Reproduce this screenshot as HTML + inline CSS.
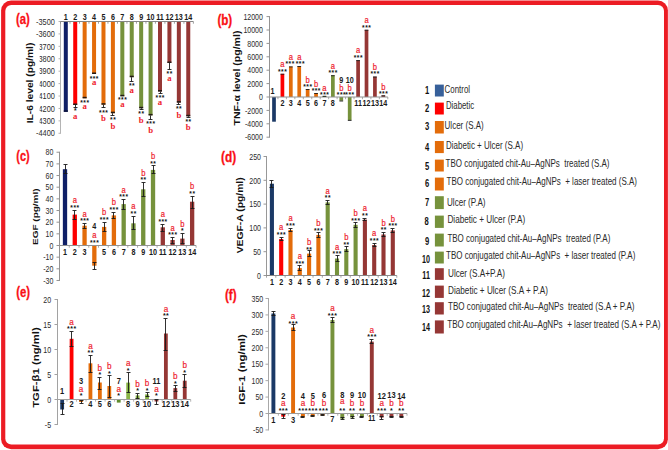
<!DOCTYPE html>
<html lang="en">
<head>
<meta charset="utf-8">
<title>Cytokine and growth factor levels - bar chart panels</title>
<style>
html,body{margin:0;padding:0;background:#fff;}
body{width:668px;height:450px;overflow:hidden;font-family:"Liberation Sans",sans-serif;}
svg{display:block;}
text.s{font-family:"Liberation Sans",sans-serif;}
text.sb{font-family:"Liberation Sans",sans-serif;font-weight:bold;}
text.r{font-family:"Liberation Serif",serif;}
text.rb{font-family:"Liberation Serif",serif;font-weight:bold;}
</style>
</head>
<body>
<svg width="668" height="450" viewBox="0 0 668 450">
<rect x="1.1" y="0.5" width="666.8" height="448.7" rx="10" ry="10" fill="#ec1c24"/>
<rect x="5.3" y="5" width="658.7" height="439.6" rx="6" ry="6" fill="#fff"/>
<rect x="63.8" y="21.5" width="4" height="90.3" fill="#0f1f66"/>
<rect x="73.22" y="21.5" width="4" height="83.5" fill="#fe0000"/>
<rect x="82.64" y="21.5" width="4" height="76.8" fill="#e36c0a"/>
<rect x="92.06" y="21.5" width="4" height="52.5" fill="#e36c0a"/>
<rect x="101.48" y="21.5" width="4" height="83.2" fill="#e36c0a"/>
<rect x="110.9" y="21.5" width="4" height="91.7" fill="#e36c0a"/>
<rect x="120.32" y="21.5" width="4" height="74.8" fill="#76923c"/>
<rect x="129.74" y="21.5" width="4" height="55.7" fill="#76923c"/>
<rect x="139.16" y="21.5" width="4" height="86.8" fill="#76923c"/>
<rect x="148.58" y="21.5" width="4" height="93.9" fill="#76923c"/>
<rect x="158" y="21.5" width="4" height="70" fill="#953735"/>
<rect x="167.42" y="21.5" width="4" height="41.5" fill="#953735"/>
<rect x="176.84" y="21.5" width="4" height="81.1" fill="#953735"/>
<rect x="186.26" y="21.5" width="4" height="94.8" fill="#953735"/>
<line x1="60.5" y1="21" x2="60.5" y2="133.78" stroke="#b4b4b4" stroke-width="1"/>
<line x1="60" y1="21.5" x2="193.4" y2="21.5" stroke="#868686" stroke-width="1"/>
<line x1="58.5" y1="21.5" x2="60.5" y2="21.5" stroke="#b4b4b4" stroke-width="1"/>
<line x1="58.5" y1="33.92" x2="60.5" y2="33.92" stroke="#b4b4b4" stroke-width="1"/>
<line x1="58.5" y1="46.34" x2="60.5" y2="46.34" stroke="#b4b4b4" stroke-width="1"/>
<line x1="58.5" y1="58.76" x2="60.5" y2="58.76" stroke="#b4b4b4" stroke-width="1"/>
<line x1="58.5" y1="71.18" x2="60.5" y2="71.18" stroke="#b4b4b4" stroke-width="1"/>
<line x1="58.5" y1="83.6" x2="60.5" y2="83.6" stroke="#b4b4b4" stroke-width="1"/>
<line x1="58.5" y1="96.02" x2="60.5" y2="96.02" stroke="#b4b4b4" stroke-width="1"/>
<line x1="58.5" y1="108.44" x2="60.5" y2="108.44" stroke="#b4b4b4" stroke-width="1"/>
<line x1="58.5" y1="120.86" x2="60.5" y2="120.86" stroke="#b4b4b4" stroke-width="1"/>
<line x1="58.5" y1="133.28" x2="60.5" y2="133.28" stroke="#b4b4b4" stroke-width="1"/>
<line x1="60.5" y1="21.5" x2="60.5" y2="23.7" stroke="#868686" stroke-width="0.8"/>
<line x1="69.99" y1="21.5" x2="69.99" y2="23.7" stroke="#868686" stroke-width="0.8"/>
<line x1="79.49" y1="21.5" x2="79.49" y2="23.7" stroke="#868686" stroke-width="0.8"/>
<line x1="88.98" y1="21.5" x2="88.98" y2="23.7" stroke="#868686" stroke-width="0.8"/>
<line x1="98.47" y1="21.5" x2="98.47" y2="23.7" stroke="#868686" stroke-width="0.8"/>
<line x1="107.96" y1="21.5" x2="107.96" y2="23.7" stroke="#868686" stroke-width="0.8"/>
<line x1="117.46" y1="21.5" x2="117.46" y2="23.7" stroke="#868686" stroke-width="0.8"/>
<line x1="126.95" y1="21.5" x2="126.95" y2="23.7" stroke="#868686" stroke-width="0.8"/>
<line x1="136.44" y1="21.5" x2="136.44" y2="23.7" stroke="#868686" stroke-width="0.8"/>
<line x1="145.94" y1="21.5" x2="145.94" y2="23.7" stroke="#868686" stroke-width="0.8"/>
<line x1="155.43" y1="21.5" x2="155.43" y2="23.7" stroke="#868686" stroke-width="0.8"/>
<line x1="164.92" y1="21.5" x2="164.92" y2="23.7" stroke="#868686" stroke-width="0.8"/>
<line x1="174.41" y1="21.5" x2="174.41" y2="23.7" stroke="#868686" stroke-width="0.8"/>
<line x1="183.91" y1="21.5" x2="183.91" y2="23.7" stroke="#868686" stroke-width="0.8"/>
<line x1="193.4" y1="21.5" x2="193.4" y2="23.7" stroke="#868686" stroke-width="0.8"/>
<text class="s" transform="translate(54.9 24.7) scale(0.82 1)" font-size="9" fill="#2b2b2b" text-anchor="end">-3500</text>
<text class="s" transform="translate(54.9 37.12) scale(0.82 1)" font-size="9" fill="#2b2b2b" text-anchor="end">-3600</text>
<text class="s" transform="translate(54.9 49.54) scale(0.82 1)" font-size="9" fill="#2b2b2b" text-anchor="end">-3700</text>
<text class="s" transform="translate(54.9 61.96) scale(0.82 1)" font-size="9" fill="#2b2b2b" text-anchor="end">-3800</text>
<text class="s" transform="translate(54.9 74.38) scale(0.82 1)" font-size="9" fill="#2b2b2b" text-anchor="end">-3900</text>
<text class="s" transform="translate(54.9 86.8) scale(0.82 1)" font-size="9" fill="#2b2b2b" text-anchor="end">-4000</text>
<text class="s" transform="translate(54.9 99.22) scale(0.82 1)" font-size="9" fill="#2b2b2b" text-anchor="end">-4100</text>
<text class="s" transform="translate(54.9 111.64) scale(0.82 1)" font-size="9" fill="#2b2b2b" text-anchor="end">-4200</text>
<text class="s" transform="translate(54.9 124.06) scale(0.82 1)" font-size="9" fill="#2b2b2b" text-anchor="end">-4300</text>
<text class="s" transform="translate(54.9 136.48) scale(0.82 1)" font-size="9" fill="#2b2b2b" text-anchor="end">-4400</text>
<rect x="63.8" y="110.3" width="4" height="1.5" fill="#0a1238"/>
<rect x="73.22" y="103.5" width="4" height="1.5" fill="#241a14"/>
<line x1="75.5" y1="105" x2="75.5" y2="107.5" stroke="#1a1a1a" stroke-width="0.9"/>
<line x1="73.5" y1="107.5" x2="77.5" y2="107.5" stroke="#1a1a1a" stroke-width="0.9"/>
<rect x="82.64" y="96.8" width="4" height="1.5" fill="#241a14"/>
<rect x="92.06" y="72.5" width="4" height="1.5" fill="#241a14"/>
<rect x="101.48" y="103.2" width="4" height="1.5" fill="#241a14"/>
<line x1="103.5" y1="104.7" x2="103.5" y2="107.5" stroke="#1a1a1a" stroke-width="0.9"/>
<line x1="101.5" y1="107.5" x2="105.5" y2="107.5" stroke="#1a1a1a" stroke-width="0.9"/>
<rect x="110.9" y="111.7" width="4" height="1.5" fill="#241a14"/>
<line x1="112.5" y1="113.2" x2="112.5" y2="115.5" stroke="#1a1a1a" stroke-width="0.9"/>
<line x1="110.5" y1="115.5" x2="114.5" y2="115.5" stroke="#1a1a1a" stroke-width="0.9"/>
<rect x="120.32" y="94.8" width="4" height="1.5" fill="#241a14"/>
<rect x="129.74" y="75.7" width="4" height="1.5" fill="#241a14"/>
<line x1="131.5" y1="77.2" x2="131.5" y2="81.5" stroke="#1a1a1a" stroke-width="0.9"/>
<line x1="129.5" y1="81.5" x2="133.5" y2="81.5" stroke="#1a1a1a" stroke-width="0.9"/>
<rect x="139.16" y="106.8" width="4" height="1.5" fill="#241a14"/>
<line x1="141.5" y1="108.3" x2="141.5" y2="109.5" stroke="#1a1a1a" stroke-width="0.9"/>
<line x1="139.5" y1="109.5" x2="143.5" y2="109.5" stroke="#1a1a1a" stroke-width="0.9"/>
<rect x="148.58" y="113.9" width="4" height="1.5" fill="#241a14"/>
<line x1="150.5" y1="115.4" x2="150.5" y2="119.5" stroke="#1a1a1a" stroke-width="0.9"/>
<line x1="148.5" y1="119.5" x2="152.5" y2="119.5" stroke="#1a1a1a" stroke-width="0.9"/>
<rect x="158" y="90" width="4" height="1.5" fill="#241a14"/>
<line x1="160.5" y1="91.5" x2="160.5" y2="93.5" stroke="#1a1a1a" stroke-width="0.9"/>
<line x1="158.5" y1="93.5" x2="162.5" y2="93.5" stroke="#1a1a1a" stroke-width="0.9"/>
<rect x="167.42" y="61.5" width="4" height="1.5" fill="#241a14"/>
<line x1="169.5" y1="63" x2="169.5" y2="69.5" stroke="#1a1a1a" stroke-width="0.9"/>
<line x1="167.5" y1="69.5" x2="171.5" y2="69.5" stroke="#1a1a1a" stroke-width="0.9"/>
<rect x="176.84" y="101.1" width="4" height="1.5" fill="#241a14"/>
<line x1="178.5" y1="102.6" x2="178.5" y2="104.5" stroke="#1a1a1a" stroke-width="0.9"/>
<line x1="176.5" y1="104.5" x2="180.5" y2="104.5" stroke="#1a1a1a" stroke-width="0.9"/>
<rect x="186.26" y="114.8" width="4" height="1.5" fill="#241a14"/>
<line x1="188.5" y1="116.3" x2="188.5" y2="117.5" stroke="#1a1a1a" stroke-width="0.9"/>
<line x1="186.5" y1="117.5" x2="190.5" y2="117.5" stroke="#1a1a1a" stroke-width="0.9"/>
<rect x="26" y="40" width="13.6" height="84" fill="#fff"/>
<text class="sb" transform="translate(32.8 123.3) rotate(-90) scale(1 0.8)" font-size="10.22" fill="#111">IL-6 level (pg/ml)</text>
<text class="sb" transform="translate(16 24.3) scale(0.81 1)" font-size="14" fill="#fa0f16" stroke="#fa0f16" stroke-width="0.3">(a)</text>
<text class="sb" transform="translate(65.8 19.7) scale(0.8 1)" font-size="9" fill="#1a1a1a" text-anchor="middle">1</text>
<text class="sb" transform="translate(75.22 19.7) scale(0.8 1)" font-size="9" fill="#1a1a1a" text-anchor="middle">2</text>
<text class="sb" transform="translate(75.47 113.22) scale(1 1)" font-size="6.6" fill="#111" text-anchor="middle" letter-spacing="0.55">*</text>
<text class="rb" transform="translate(75.22 119.4) scale(0.95 1)" font-size="9.2" fill="#ee1c2e" text-anchor="middle">a</text>
<text class="sb" transform="translate(84.64 19.7) scale(0.8 1)" font-size="9" fill="#1a1a1a" text-anchor="middle">3</text>
<text class="sb" transform="translate(84.89 105.22) scale(1 1)" font-size="6.6" fill="#111" text-anchor="middle" letter-spacing="0.55">***</text>
<text class="rb" transform="translate(84.64 109.4) scale(0.95 1)" font-size="9.2" fill="#ee1c2e" text-anchor="middle">a</text>
<text class="sb" transform="translate(94.06 19.7) scale(0.8 1)" font-size="9" fill="#1a1a1a" text-anchor="middle">4</text>
<text class="sb" transform="translate(94.31 81.22) scale(1 1)" font-size="6.6" fill="#111" text-anchor="middle" letter-spacing="0.55">***</text>
<text class="rb" transform="translate(94.06 84.8) scale(0.95 1)" font-size="9.2" fill="#ee1c2e" text-anchor="middle">a</text>
<text class="sb" transform="translate(103.48 19.7) scale(0.8 1)" font-size="9" fill="#1a1a1a" text-anchor="middle">5</text>
<text class="sb" transform="translate(103.73 114.92) scale(1 1)" font-size="6.6" fill="#111" text-anchor="middle" letter-spacing="0.55">***</text>
<text class="rb" transform="translate(103.48 121.3) scale(0.95 1)" font-size="9.2" fill="#ee1c2e" text-anchor="middle">b</text>
<text class="sb" transform="translate(112.9 19.7) scale(0.8 1)" font-size="9" fill="#1a1a1a" text-anchor="middle">6</text>
<text class="sb" transform="translate(113.15 122.32) scale(1 1)" font-size="6.6" fill="#111" text-anchor="middle" letter-spacing="0.55">**</text>
<text class="rb" transform="translate(112.9 129.2) scale(0.95 1)" font-size="9.2" fill="#ee1c2e" text-anchor="middle">b</text>
<text class="sb" transform="translate(122.32 19.7) scale(0.8 1)" font-size="9" fill="#1a1a1a" text-anchor="middle">7</text>
<text class="sb" transform="translate(122.57 102.42) scale(1 1)" font-size="6.6" fill="#111" text-anchor="middle" letter-spacing="0.55">***</text>
<text class="rb" transform="translate(122.32 107.4) scale(0.95 1)" font-size="9.2" fill="#ee1c2e" text-anchor="middle">a</text>
<text class="sb" transform="translate(131.74 19.7) scale(0.8 1)" font-size="9" fill="#1a1a1a" text-anchor="middle">8</text>
<text class="sb" transform="translate(131.99 88.02) scale(1 1)" font-size="6.6" fill="#111" text-anchor="middle" letter-spacing="0.55">**</text>
<text class="rb" transform="translate(131.74 93.4) scale(0.95 1)" font-size="9.2" fill="#ee1c2e" text-anchor="middle">a</text>
<text class="sb" transform="translate(141.16 19.7) scale(0.8 1)" font-size="9" fill="#1a1a1a" text-anchor="middle">9</text>
<text class="sb" transform="translate(141.41 116.12) scale(1 1)" font-size="6.6" fill="#111" text-anchor="middle" letter-spacing="0.55">**</text>
<text class="rb" transform="translate(141.16 123.4) scale(0.95 1)" font-size="9.2" fill="#ee1c2e" text-anchor="middle">b</text>
<text class="sb" transform="translate(150.58 19.7) scale(0.8 1)" font-size="9" fill="#1a1a1a" text-anchor="middle">10</text>
<text class="sb" transform="translate(150.83 126.32) scale(1 1)" font-size="6.6" fill="#111" text-anchor="middle" letter-spacing="0.55">***</text>
<text class="rb" transform="translate(150.58 133.4) scale(0.95 1)" font-size="9.2" fill="#ee1c2e" text-anchor="middle">b</text>
<text class="sb" transform="translate(160 19.7) scale(0.8 1)" font-size="9" fill="#1a1a1a" text-anchor="middle">11</text>
<text class="sb" transform="translate(160.25 100.02) scale(1 1)" font-size="6.6" fill="#111" text-anchor="middle" letter-spacing="0.55">***</text>
<text class="rb" transform="translate(160 104.5) scale(0.95 1)" font-size="9.2" fill="#ee1c2e" text-anchor="middle">a</text>
<text class="sb" transform="translate(169.42 19.7) scale(0.8 1)" font-size="9" fill="#1a1a1a" text-anchor="middle">12</text>
<text class="sb" transform="translate(169.67 76.12) scale(1 1)" font-size="6.6" fill="#111" text-anchor="middle" letter-spacing="0.55">**</text>
<text class="rb" transform="translate(169.42 80.8) scale(0.95 1)" font-size="9.2" fill="#ee1c2e" text-anchor="middle">a</text>
<text class="sb" transform="translate(178.84 19.7) scale(0.8 1)" font-size="9" fill="#1a1a1a" text-anchor="middle">13</text>
<text class="sb" transform="translate(179.09 111.12) scale(1 1)" font-size="6.6" fill="#111" text-anchor="middle" letter-spacing="0.55">**</text>
<text class="rb" transform="translate(178.84 117.5) scale(0.95 1)" font-size="9.2" fill="#ee1c2e" text-anchor="middle">b</text>
<text class="sb" transform="translate(188.26 19.7) scale(0.8 1)" font-size="9" fill="#1a1a1a" text-anchor="middle">14</text>
<text class="sb" transform="translate(188.51 123.72) scale(1 1)" font-size="6.6" fill="#111" text-anchor="middle" letter-spacing="0.55">**</text>
<text class="rb" transform="translate(188.26 130.3) scale(0.95 1)" font-size="9.2" fill="#ee1c2e" text-anchor="middle">b</text>
<rect x="272.15" y="97" width="3.7" height="24.7" fill="#1b3966"/>
<rect x="280.56" y="73.9" width="3.7" height="23.1" fill="#fe0000"/>
<rect x="288.97" y="66.6" width="3.7" height="30.4" fill="#e36c0a"/>
<rect x="297.38" y="66.2" width="3.7" height="30.8" fill="#e36c0a"/>
<rect x="305.79" y="89.2" width="3.7" height="7.8" fill="#e36c0a"/>
<rect x="314.2" y="93.2" width="3.7" height="3.8" fill="#e36c0a"/>
<rect x="322.61" y="96" width="3.7" height="1" fill="#76923c"/>
<rect x="331.02" y="75.4" width="3.7" height="21.6" fill="#76923c"/>
<rect x="339.43" y="97" width="3.7" height="3.7" fill="#76923c"/>
<rect x="347.84" y="97" width="3.7" height="23.1" fill="#76923c"/>
<rect x="356.25" y="60.3" width="3.7" height="36.7" fill="#953735"/>
<rect x="364.66" y="29.9" width="3.7" height="67.1" fill="#953735"/>
<rect x="373.07" y="76.7" width="3.7" height="20.3" fill="#953735"/>
<rect x="381.48" y="95.5" width="3.7" height="1.5" fill="#953735"/>
<line x1="269.5" y1="16.1" x2="269.5" y2="137.7" stroke="#939393" stroke-width="1"/>
<line x1="269" y1="97" x2="387.8" y2="97" stroke="#939393" stroke-width="1"/>
<line x1="266.5" y1="16.6" x2="269.5" y2="16.6" stroke="#939393" stroke-width="1"/>
<line x1="266.5" y1="30" x2="269.5" y2="30" stroke="#939393" stroke-width="1"/>
<line x1="266.5" y1="43.4" x2="269.5" y2="43.4" stroke="#939393" stroke-width="1"/>
<line x1="266.5" y1="56.8" x2="269.5" y2="56.8" stroke="#939393" stroke-width="1"/>
<line x1="266.5" y1="70.2" x2="269.5" y2="70.2" stroke="#939393" stroke-width="1"/>
<line x1="266.5" y1="83.6" x2="269.5" y2="83.6" stroke="#939393" stroke-width="1"/>
<line x1="266.5" y1="97" x2="269.5" y2="97" stroke="#939393" stroke-width="1"/>
<line x1="266.5" y1="110.4" x2="269.5" y2="110.4" stroke="#939393" stroke-width="1"/>
<line x1="266.5" y1="123.8" x2="269.5" y2="123.8" stroke="#939393" stroke-width="1"/>
<line x1="266.5" y1="137.2" x2="269.5" y2="137.2" stroke="#939393" stroke-width="1"/>
<line x1="269.5" y1="97" x2="269.5" y2="99.2" stroke="#939393" stroke-width="0.8"/>
<line x1="277.95" y1="97" x2="277.95" y2="99.2" stroke="#939393" stroke-width="0.8"/>
<line x1="286.4" y1="97" x2="286.4" y2="99.2" stroke="#939393" stroke-width="0.8"/>
<line x1="294.85" y1="97" x2="294.85" y2="99.2" stroke="#939393" stroke-width="0.8"/>
<line x1="303.3" y1="97" x2="303.3" y2="99.2" stroke="#939393" stroke-width="0.8"/>
<line x1="311.75" y1="97" x2="311.75" y2="99.2" stroke="#939393" stroke-width="0.8"/>
<line x1="320.2" y1="97" x2="320.2" y2="99.2" stroke="#939393" stroke-width="0.8"/>
<line x1="328.65" y1="97" x2="328.65" y2="99.2" stroke="#939393" stroke-width="0.8"/>
<line x1="337.1" y1="97" x2="337.1" y2="99.2" stroke="#939393" stroke-width="0.8"/>
<line x1="345.55" y1="97" x2="345.55" y2="99.2" stroke="#939393" stroke-width="0.8"/>
<line x1="354" y1="97" x2="354" y2="99.2" stroke="#939393" stroke-width="0.8"/>
<line x1="362.45" y1="97" x2="362.45" y2="99.2" stroke="#939393" stroke-width="0.8"/>
<line x1="370.9" y1="97" x2="370.9" y2="99.2" stroke="#939393" stroke-width="0.8"/>
<line x1="379.35" y1="97" x2="379.35" y2="99.2" stroke="#939393" stroke-width="0.8"/>
<line x1="387.8" y1="97" x2="387.8" y2="99.2" stroke="#939393" stroke-width="0.8"/>
<text class="s" transform="translate(262.9 19.8) scale(0.78 1)" font-size="9" fill="#2b2b2b" text-anchor="end">12000</text>
<text class="s" transform="translate(262.9 33.2) scale(0.78 1)" font-size="9" fill="#2b2b2b" text-anchor="end">10000</text>
<text class="s" transform="translate(262.9 46.6) scale(0.78 1)" font-size="9" fill="#2b2b2b" text-anchor="end">8000</text>
<text class="s" transform="translate(262.9 60) scale(0.78 1)" font-size="9" fill="#2b2b2b" text-anchor="end">6000</text>
<text class="s" transform="translate(262.9 73.4) scale(0.78 1)" font-size="9" fill="#2b2b2b" text-anchor="end">4000</text>
<text class="s" transform="translate(262.9 86.8) scale(0.78 1)" font-size="9" fill="#2b2b2b" text-anchor="end">2000</text>
<text class="s" transform="translate(262.9 100.2) scale(0.78 1)" font-size="9" fill="#2b2b2b" text-anchor="end">0</text>
<text class="s" transform="translate(262.9 113.6) scale(0.78 1)" font-size="9" fill="#2b2b2b" text-anchor="end">-2000</text>
<text class="s" transform="translate(262.9 127) scale(0.78 1)" font-size="9" fill="#2b2b2b" text-anchor="end">-4000</text>
<text class="s" transform="translate(262.9 140.4) scale(0.78 1)" font-size="9" fill="#2b2b2b" text-anchor="end">-6000</text>
<text class="sb" transform="translate(240 125.5) rotate(-90) scale(1 0.8)" font-size="10.55" fill="#111">TNF-α level (pg/ml)</text>
<text class="sb" transform="translate(217.4 24.6) scale(0.83 1)" font-size="14" fill="#fa0f16" stroke="#fa0f16" stroke-width="0.3">(b)</text>
<text class="sb" transform="translate(272.5 93.7) scale(0.8 1)" font-size="9" fill="#1a1a1a" text-anchor="middle">1</text>
<text class="sb" transform="translate(282.41 105.9) scale(0.8 1)" font-size="9" fill="#1a1a1a" text-anchor="middle">2</text>
<line x1="280.56" y1="74.2" x2="284.26" y2="74.2" stroke="#1a1a1a" stroke-width="0.9"/>
<text class="sb" transform="translate(282.66 73.62) scale(1 1)" font-size="6.6" fill="#111" text-anchor="middle" letter-spacing="0.55">***</text>
<text class="s" transform="translate(282.41 67.3) scale(0.88 1)" font-size="8.6" fill="#ee1c2e" text-anchor="middle" stroke="#ee1c2e" stroke-width="0.2">a</text>
<text class="sb" transform="translate(290.82 105.9) scale(0.8 1)" font-size="9" fill="#1a1a1a" text-anchor="middle">3</text>
<line x1="288.97" y1="66.9" x2="292.67" y2="66.9" stroke="#1a1a1a" stroke-width="0.9"/>
<text class="sb" transform="translate(290.07 66.42) scale(1 1)" font-size="6.6" fill="#111" text-anchor="middle" letter-spacing="0.55">***</text>
<text class="s" transform="translate(290.82 59.8) scale(0.88 1)" font-size="8.6" fill="#ee1c2e" text-anchor="middle" stroke="#ee1c2e" stroke-width="0.2">a</text>
<text class="sb" transform="translate(299.23 105.9) scale(0.8 1)" font-size="9" fill="#1a1a1a" text-anchor="middle">4</text>
<line x1="297.38" y1="66.5" x2="301.08" y2="66.5" stroke="#1a1a1a" stroke-width="0.9"/>
<text class="sb" transform="translate(300.38 65.82) scale(1 1)" font-size="6.6" fill="#111" text-anchor="middle" letter-spacing="0.55">***</text>
<text class="s" transform="translate(299.23 60) scale(0.88 1)" font-size="8.6" fill="#ee1c2e" text-anchor="middle" stroke="#ee1c2e" stroke-width="0.2">a</text>
<text class="sb" transform="translate(307.64 105.9) scale(0.8 1)" font-size="9" fill="#1a1a1a" text-anchor="middle">5</text>
<line x1="305.79" y1="89.5" x2="309.49" y2="89.5" stroke="#1a1a1a" stroke-width="0.9"/>
<text class="sb" transform="translate(307.89 88.92) scale(1 1)" font-size="6.6" fill="#111" text-anchor="middle" letter-spacing="0.55">***</text>
<text class="s" transform="translate(307.64 82.5) scale(0.88 1)" font-size="8.6" fill="#ee1c2e" text-anchor="middle" stroke="#ee1c2e" stroke-width="0.2">b</text>
<text class="sb" transform="translate(316.05 105.9) scale(0.8 1)" font-size="9" fill="#1a1a1a" text-anchor="middle">6</text>
<line x1="314.2" y1="93.5" x2="317.9" y2="93.5" stroke="#1a1a1a" stroke-width="0.9"/>
<text class="sb" transform="translate(316.3 93.32) scale(1 1)" font-size="6.6" fill="#111" text-anchor="middle" letter-spacing="0.55">***</text>
<text class="s" transform="translate(316.05 87.3) scale(0.88 1)" font-size="8.6" fill="#ee1c2e" text-anchor="middle" stroke="#ee1c2e" stroke-width="0.2">b</text>
<text class="sb" transform="translate(324.46 105.9) scale(0.8 1)" font-size="9" fill="#1a1a1a" text-anchor="middle">7</text>
<line x1="322.61" y1="96.3" x2="326.31" y2="96.3" stroke="#1a1a1a" stroke-width="0.9"/>
<text class="sb" transform="translate(324.71 96.82) scale(1 1)" font-size="6.6" fill="#111" text-anchor="middle" letter-spacing="0.55">***</text>
<text class="s" transform="translate(324.46 90.8) scale(0.88 1)" font-size="8.6" fill="#ee1c2e" text-anchor="middle" stroke="#ee1c2e" stroke-width="0.2">a</text>
<text class="sb" transform="translate(332.87 105.9) scale(0.8 1)" font-size="9" fill="#1a1a1a" text-anchor="middle">8</text>
<line x1="331.02" y1="75.7" x2="334.72" y2="75.7" stroke="#1a1a1a" stroke-width="0.9"/>
<text class="sb" transform="translate(333.12 75.32) scale(1 1)" font-size="6.6" fill="#111" text-anchor="middle" letter-spacing="0.55">***</text>
<text class="s" transform="translate(332.87 69.3) scale(0.88 1)" font-size="8.6" fill="#ee1c2e" text-anchor="middle" stroke="#ee1c2e" stroke-width="0.2">a</text>
<text class="sb" transform="translate(341.28 82.5) scale(0.8 1)" font-size="9" fill="#1a1a1a" text-anchor="middle">9</text>
<line x1="339.43" y1="101" x2="343.13" y2="101" stroke="#1a1a1a" stroke-width="0.9"/>
<text class="sb" transform="translate(341.53 96.92) scale(1 1)" font-size="6.6" fill="#111" text-anchor="middle" letter-spacing="0.55">***</text>
<text class="s" transform="translate(341.28 90.5) scale(0.88 1)" font-size="8.6" fill="#ee1c2e" text-anchor="middle" stroke="#ee1c2e" stroke-width="0.2">b</text>
<text class="sb" transform="translate(349.69 82.5) scale(0.8 1)" font-size="9" fill="#1a1a1a" text-anchor="middle">10</text>
<line x1="347.84" y1="120.4" x2="351.54" y2="120.4" stroke="#1a1a1a" stroke-width="0.9"/>
<text class="sb" transform="translate(349.94 96.92) scale(1 1)" font-size="6.6" fill="#111" text-anchor="middle" letter-spacing="0.55">***</text>
<text class="s" transform="translate(349.69 90.5) scale(0.88 1)" font-size="8.6" fill="#ee1c2e" text-anchor="middle" stroke="#ee1c2e" stroke-width="0.2">b</text>
<text class="sb" transform="translate(358.1 105.9) scale(0.8 1)" font-size="9" fill="#1a1a1a" text-anchor="middle">11</text>
<line x1="356.25" y1="60.6" x2="359.95" y2="60.6" stroke="#1a1a1a" stroke-width="0.9"/>
<text class="sb" transform="translate(358.35 60.32) scale(1 1)" font-size="6.6" fill="#111" text-anchor="middle" letter-spacing="0.55">***</text>
<text class="s" transform="translate(358.1 53.3) scale(0.88 1)" font-size="8.6" fill="#ee1c2e" text-anchor="middle" stroke="#ee1c2e" stroke-width="0.2">a</text>
<text class="sb" transform="translate(366.51 105.9) scale(0.8 1)" font-size="9" fill="#1a1a1a" text-anchor="middle">12</text>
<line x1="364.66" y1="30.2" x2="368.36" y2="30.2" stroke="#1a1a1a" stroke-width="0.9"/>
<text class="sb" transform="translate(366.76 29.72) scale(1 1)" font-size="6.6" fill="#111" text-anchor="middle" letter-spacing="0.55">***</text>
<text class="s" transform="translate(366.51 23) scale(0.88 1)" font-size="8.6" fill="#ee1c2e" text-anchor="middle" stroke="#ee1c2e" stroke-width="0.2">a</text>
<text class="sb" transform="translate(374.92 105.9) scale(0.8 1)" font-size="9" fill="#1a1a1a" text-anchor="middle">13</text>
<line x1="373.07" y1="77" x2="376.77" y2="77" stroke="#1a1a1a" stroke-width="0.9"/>
<text class="sb" transform="translate(375.17 76.32) scale(1 1)" font-size="6.6" fill="#111" text-anchor="middle" letter-spacing="0.55">***</text>
<text class="s" transform="translate(374.92 69.6) scale(0.88 1)" font-size="8.6" fill="#ee1c2e" text-anchor="middle" stroke="#ee1c2e" stroke-width="0.2">b</text>
<text class="sb" transform="translate(383.33 105.9) scale(0.8 1)" font-size="9" fill="#1a1a1a" text-anchor="middle">14</text>
<line x1="381.48" y1="95.8" x2="385.18" y2="95.8" stroke="#1a1a1a" stroke-width="0.9"/>
<text class="sb" transform="translate(383.58 95.72) scale(1 1)" font-size="6.6" fill="#111" text-anchor="middle" letter-spacing="0.55">***</text>
<text class="s" transform="translate(383.33 90) scale(0.88 1)" font-size="8.6" fill="#ee1c2e" text-anchor="middle" stroke="#ee1c2e" stroke-width="0.2">b</text>
<rect x="62.85" y="169.2" width="4.3" height="76.3" fill="#0f1f66"/>
<rect x="72.63" y="214.6" width="4.3" height="30.9" fill="#fe0000"/>
<rect x="82.41" y="225.7" width="4.3" height="19.8" fill="#e36c0a"/>
<rect x="92.19" y="245.5" width="4.3" height="20.2" fill="#e36c0a"/>
<rect x="101.97" y="226.9" width="4.3" height="18.6" fill="#e36c0a"/>
<rect x="111.75" y="215.4" width="4.3" height="30.1" fill="#e36c0a"/>
<rect x="121.53" y="204.1" width="4.3" height="41.4" fill="#76923c"/>
<rect x="131.31" y="223.3" width="4.3" height="22.2" fill="#76923c"/>
<rect x="141.09" y="189.3" width="4.3" height="56.2" fill="#76923c"/>
<rect x="150.87" y="169.9" width="4.3" height="75.6" fill="#76923c"/>
<rect x="160.65" y="227.3" width="4.3" height="18.2" fill="#953735"/>
<rect x="170.43" y="240" width="4.3" height="5.5" fill="#953735"/>
<rect x="180.21" y="238.6" width="4.3" height="6.9" fill="#953735"/>
<rect x="189.99" y="201.7" width="4.3" height="43.8" fill="#953735"/>
<line x1="59.5" y1="151.72" x2="59.5" y2="280.98" stroke="#939393" stroke-width="1"/>
<line x1="59" y1="245.5" x2="196.1" y2="245.5" stroke="#939393" stroke-width="1"/>
<line x1="56.5" y1="152.22" x2="59.5" y2="152.22" stroke="#939393" stroke-width="1"/>
<line x1="56.5" y1="163.88" x2="59.5" y2="163.88" stroke="#939393" stroke-width="1"/>
<line x1="56.5" y1="175.54" x2="59.5" y2="175.54" stroke="#939393" stroke-width="1"/>
<line x1="56.5" y1="187.2" x2="59.5" y2="187.2" stroke="#939393" stroke-width="1"/>
<line x1="56.5" y1="198.86" x2="59.5" y2="198.86" stroke="#939393" stroke-width="1"/>
<line x1="56.5" y1="210.52" x2="59.5" y2="210.52" stroke="#939393" stroke-width="1"/>
<line x1="56.5" y1="222.18" x2="59.5" y2="222.18" stroke="#939393" stroke-width="1"/>
<line x1="56.5" y1="233.84" x2="59.5" y2="233.84" stroke="#939393" stroke-width="1"/>
<line x1="56.5" y1="245.5" x2="59.5" y2="245.5" stroke="#939393" stroke-width="1"/>
<line x1="56.5" y1="257.16" x2="59.5" y2="257.16" stroke="#939393" stroke-width="1"/>
<line x1="56.5" y1="268.82" x2="59.5" y2="268.82" stroke="#939393" stroke-width="1"/>
<line x1="56.5" y1="280.48" x2="59.5" y2="280.48" stroke="#939393" stroke-width="1"/>
<line x1="59.5" y1="245.5" x2="59.5" y2="247.7" stroke="#939393" stroke-width="0.8"/>
<line x1="69.26" y1="245.5" x2="69.26" y2="247.7" stroke="#939393" stroke-width="0.8"/>
<line x1="79.01" y1="245.5" x2="79.01" y2="247.7" stroke="#939393" stroke-width="0.8"/>
<line x1="88.77" y1="245.5" x2="88.77" y2="247.7" stroke="#939393" stroke-width="0.8"/>
<line x1="98.53" y1="245.5" x2="98.53" y2="247.7" stroke="#939393" stroke-width="0.8"/>
<line x1="108.29" y1="245.5" x2="108.29" y2="247.7" stroke="#939393" stroke-width="0.8"/>
<line x1="118.04" y1="245.5" x2="118.04" y2="247.7" stroke="#939393" stroke-width="0.8"/>
<line x1="127.8" y1="245.5" x2="127.8" y2="247.7" stroke="#939393" stroke-width="0.8"/>
<line x1="137.56" y1="245.5" x2="137.56" y2="247.7" stroke="#939393" stroke-width="0.8"/>
<line x1="147.31" y1="245.5" x2="147.31" y2="247.7" stroke="#939393" stroke-width="0.8"/>
<line x1="157.07" y1="245.5" x2="157.07" y2="247.7" stroke="#939393" stroke-width="0.8"/>
<line x1="166.83" y1="245.5" x2="166.83" y2="247.7" stroke="#939393" stroke-width="0.8"/>
<line x1="176.59" y1="245.5" x2="176.59" y2="247.7" stroke="#939393" stroke-width="0.8"/>
<line x1="186.34" y1="245.5" x2="186.34" y2="247.7" stroke="#939393" stroke-width="0.8"/>
<line x1="196.1" y1="245.5" x2="196.1" y2="247.7" stroke="#939393" stroke-width="0.8"/>
<text class="s" transform="translate(53.3 155.42) scale(0.78 1)" font-size="9" fill="#2b2b2b" text-anchor="end">80</text>
<text class="s" transform="translate(53.3 167.08) scale(0.78 1)" font-size="9" fill="#2b2b2b" text-anchor="end">70</text>
<text class="s" transform="translate(53.3 178.74) scale(0.78 1)" font-size="9" fill="#2b2b2b" text-anchor="end">60</text>
<text class="s" transform="translate(53.3 190.4) scale(0.78 1)" font-size="9" fill="#2b2b2b" text-anchor="end">50</text>
<text class="s" transform="translate(53.3 202.06) scale(0.78 1)" font-size="9" fill="#2b2b2b" text-anchor="end">40</text>
<text class="s" transform="translate(53.3 213.72) scale(0.78 1)" font-size="9" fill="#2b2b2b" text-anchor="end">30</text>
<text class="s" transform="translate(53.3 225.38) scale(0.78 1)" font-size="9" fill="#2b2b2b" text-anchor="end">20</text>
<text class="s" transform="translate(53.3 237.04) scale(0.78 1)" font-size="9" fill="#2b2b2b" text-anchor="end">10</text>
<text class="s" transform="translate(53.3 248.7) scale(0.78 1)" font-size="9" fill="#2b2b2b" text-anchor="end">0</text>
<text class="s" transform="translate(53.3 260.36) scale(0.78 1)" font-size="9" fill="#2b2b2b" text-anchor="end">-10</text>
<text class="s" transform="translate(53.3 272.02) scale(0.78 1)" font-size="9" fill="#2b2b2b" text-anchor="end">-20</text>
<text class="s" transform="translate(53.3 283.68) scale(0.78 1)" font-size="9" fill="#2b2b2b" text-anchor="end">-30</text>
<line x1="65.5" y1="164.5" x2="65.5" y2="173.5" stroke="#1a1a1a" stroke-width="0.9"/>
<line x1="63.5" y1="164.5" x2="67.5" y2="164.5" stroke="#1a1a1a" stroke-width="0.9"/>
<line x1="63.5" y1="173.5" x2="67.5" y2="173.5" stroke="#1a1a1a" stroke-width="0.9"/>
<line x1="74.5" y1="210.5" x2="74.5" y2="219.5" stroke="#1a1a1a" stroke-width="0.9"/>
<line x1="72.5" y1="210.5" x2="76.5" y2="210.5" stroke="#1a1a1a" stroke-width="0.9"/>
<line x1="72.5" y1="219.5" x2="76.5" y2="219.5" stroke="#1a1a1a" stroke-width="0.9"/>
<line x1="84.5" y1="223.5" x2="84.5" y2="228.5" stroke="#1a1a1a" stroke-width="0.9"/>
<line x1="82.5" y1="223.5" x2="86.5" y2="223.5" stroke="#1a1a1a" stroke-width="0.9"/>
<line x1="82.5" y1="228.5" x2="86.5" y2="228.5" stroke="#1a1a1a" stroke-width="0.9"/>
<line x1="94.5" y1="262.5" x2="94.5" y2="269.5" stroke="#1a1a1a" stroke-width="0.9"/>
<line x1="92.5" y1="262.5" x2="96.5" y2="262.5" stroke="#1a1a1a" stroke-width="0.9"/>
<line x1="92.5" y1="269.5" x2="96.5" y2="269.5" stroke="#1a1a1a" stroke-width="0.9"/>
<line x1="104.5" y1="222.5" x2="104.5" y2="231.5" stroke="#1a1a1a" stroke-width="0.9"/>
<line x1="102.5" y1="222.5" x2="106.5" y2="222.5" stroke="#1a1a1a" stroke-width="0.9"/>
<line x1="102.5" y1="231.5" x2="106.5" y2="231.5" stroke="#1a1a1a" stroke-width="0.9"/>
<line x1="113.5" y1="212.5" x2="113.5" y2="218.5" stroke="#1a1a1a" stroke-width="0.9"/>
<line x1="111.5" y1="212.5" x2="115.5" y2="212.5" stroke="#1a1a1a" stroke-width="0.9"/>
<line x1="111.5" y1="218.5" x2="115.5" y2="218.5" stroke="#1a1a1a" stroke-width="0.9"/>
<line x1="123.5" y1="199.5" x2="123.5" y2="209.5" stroke="#1a1a1a" stroke-width="0.9"/>
<line x1="121.5" y1="199.5" x2="125.5" y2="199.5" stroke="#1a1a1a" stroke-width="0.9"/>
<line x1="121.5" y1="209.5" x2="125.5" y2="209.5" stroke="#1a1a1a" stroke-width="0.9"/>
<line x1="133.5" y1="216.5" x2="133.5" y2="229.5" stroke="#1a1a1a" stroke-width="0.9"/>
<line x1="131.5" y1="216.5" x2="135.5" y2="216.5" stroke="#1a1a1a" stroke-width="0.9"/>
<line x1="131.5" y1="229.5" x2="135.5" y2="229.5" stroke="#1a1a1a" stroke-width="0.9"/>
<line x1="143.5" y1="182.5" x2="143.5" y2="196.5" stroke="#1a1a1a" stroke-width="0.9"/>
<line x1="141.5" y1="182.5" x2="145.5" y2="182.5" stroke="#1a1a1a" stroke-width="0.9"/>
<line x1="141.5" y1="196.5" x2="145.5" y2="196.5" stroke="#1a1a1a" stroke-width="0.9"/>
<line x1="153.5" y1="165.5" x2="153.5" y2="173.5" stroke="#1a1a1a" stroke-width="0.9"/>
<line x1="151.5" y1="165.5" x2="155.5" y2="165.5" stroke="#1a1a1a" stroke-width="0.9"/>
<line x1="151.5" y1="173.5" x2="155.5" y2="173.5" stroke="#1a1a1a" stroke-width="0.9"/>
<line x1="162.5" y1="224.5" x2="162.5" y2="231.5" stroke="#1a1a1a" stroke-width="0.9"/>
<line x1="160.5" y1="224.5" x2="164.5" y2="224.5" stroke="#1a1a1a" stroke-width="0.9"/>
<line x1="160.5" y1="231.5" x2="164.5" y2="231.5" stroke="#1a1a1a" stroke-width="0.9"/>
<line x1="172.5" y1="237.5" x2="172.5" y2="243.5" stroke="#1a1a1a" stroke-width="0.9"/>
<line x1="170.5" y1="237.5" x2="174.5" y2="237.5" stroke="#1a1a1a" stroke-width="0.9"/>
<line x1="170.5" y1="243.5" x2="174.5" y2="243.5" stroke="#1a1a1a" stroke-width="0.9"/>
<line x1="182.5" y1="233.5" x2="182.5" y2="243.5" stroke="#1a1a1a" stroke-width="0.9"/>
<line x1="180.5" y1="233.5" x2="184.5" y2="233.5" stroke="#1a1a1a" stroke-width="0.9"/>
<line x1="180.5" y1="243.5" x2="184.5" y2="243.5" stroke="#1a1a1a" stroke-width="0.9"/>
<line x1="192.5" y1="196.5" x2="192.5" y2="208.5" stroke="#1a1a1a" stroke-width="0.9"/>
<line x1="190.5" y1="196.5" x2="194.5" y2="196.5" stroke="#1a1a1a" stroke-width="0.9"/>
<line x1="190.5" y1="208.5" x2="194.5" y2="208.5" stroke="#1a1a1a" stroke-width="0.9"/>
<text class="sb" transform="translate(38 245) rotate(-90) scale(1 0.8)" font-size="10.01" fill="#111">EGF (pg/ml)</text>
<text class="sb" transform="translate(16.3 161.2) scale(0.78 1)" font-size="14" fill="#fa0f16" stroke="#fa0f16" stroke-width="0.3">(c)</text>
<text class="sb" transform="translate(65 254.8) scale(0.8 1)" font-size="9" fill="#1a1a1a" text-anchor="middle">1</text>
<text class="sb" transform="translate(74.78 254.8) scale(0.8 1)" font-size="9" fill="#1a1a1a" text-anchor="middle">2</text>
<text class="sb" transform="translate(75.03 209.82) scale(1 1)" font-size="6.6" fill="#111" text-anchor="middle" letter-spacing="0.55">***</text>
<text class="s" transform="translate(74.78 203.4) scale(0.88 1)" font-size="8.6" fill="#ee1c2e" text-anchor="middle" stroke="#ee1c2e" stroke-width="0.2">a</text>
<text class="sb" transform="translate(84.56 254.8) scale(0.8 1)" font-size="9" fill="#1a1a1a" text-anchor="middle">3</text>
<text class="sb" transform="translate(84.81 222.92) scale(1 1)" font-size="6.6" fill="#111" text-anchor="middle" letter-spacing="0.55">***</text>
<text class="s" transform="translate(84.56 216.5) scale(0.88 1)" font-size="8.6" fill="#ee1c2e" text-anchor="middle" stroke="#ee1c2e" stroke-width="0.2">a</text>
<text class="sb" transform="translate(94.34 229.1) scale(0.8 1)" font-size="9" fill="#1a1a1a" text-anchor="middle">4</text>
<text class="sb" transform="translate(94.59 245.02) scale(1 1)" font-size="6.6" fill="#111" text-anchor="middle" letter-spacing="0.55">***</text>
<text class="s" transform="translate(94.34 238.1) scale(0.88 1)" font-size="8.6" fill="#ee1c2e" text-anchor="middle" stroke="#ee1c2e" stroke-width="0.2">a</text>
<text class="sb" transform="translate(104.12 254.8) scale(0.8 1)" font-size="9" fill="#1a1a1a" text-anchor="middle">5</text>
<text class="sb" transform="translate(104.37 221.62) scale(1 1)" font-size="6.6" fill="#111" text-anchor="middle" letter-spacing="0.55">***</text>
<text class="s" transform="translate(104.12 215.2) scale(0.88 1)" font-size="8.6" fill="#ee1c2e" text-anchor="middle" stroke="#ee1c2e" stroke-width="0.2">b</text>
<text class="sb" transform="translate(113.9 254.8) scale(0.8 1)" font-size="9" fill="#1a1a1a" text-anchor="middle">6</text>
<text class="sb" transform="translate(114.15 211.82) scale(1 1)" font-size="6.6" fill="#111" text-anchor="middle" letter-spacing="0.55">***</text>
<text class="s" transform="translate(113.9 205.4) scale(0.88 1)" font-size="8.6" fill="#ee1c2e" text-anchor="middle" stroke="#ee1c2e" stroke-width="0.2">b</text>
<text class="sb" transform="translate(123.68 254.8) scale(0.8 1)" font-size="9" fill="#1a1a1a" text-anchor="middle">7</text>
<text class="sb" transform="translate(123.93 198.92) scale(1 1)" font-size="6.6" fill="#111" text-anchor="middle" letter-spacing="0.55">***</text>
<text class="s" transform="translate(123.68 192.5) scale(0.88 1)" font-size="8.6" fill="#ee1c2e" text-anchor="middle" stroke="#ee1c2e" stroke-width="0.2">a</text>
<text class="sb" transform="translate(133.46 254.8) scale(0.8 1)" font-size="9" fill="#1a1a1a" text-anchor="middle">8</text>
<text class="sb" transform="translate(133.71 215.62) scale(1 1)" font-size="6.6" fill="#111" text-anchor="middle" letter-spacing="0.55">**</text>
<text class="s" transform="translate(133.46 209.2) scale(0.88 1)" font-size="8.6" fill="#ee1c2e" text-anchor="middle" stroke="#ee1c2e" stroke-width="0.2">a</text>
<text class="sb" transform="translate(143.24 254.8) scale(0.8 1)" font-size="9" fill="#1a1a1a" text-anchor="middle">9</text>
<text class="sb" transform="translate(143.49 182.32) scale(1 1)" font-size="6.6" fill="#111" text-anchor="middle" letter-spacing="0.55">**</text>
<text class="s" transform="translate(143.24 175.9) scale(0.88 1)" font-size="8.6" fill="#ee1c2e" text-anchor="middle" stroke="#ee1c2e" stroke-width="0.2">b</text>
<text class="sb" transform="translate(153.02 254.8) scale(0.8 1)" font-size="9" fill="#1a1a1a" text-anchor="middle">10</text>
<text class="sb" transform="translate(153.27 165.52) scale(1 1)" font-size="6.6" fill="#111" text-anchor="middle" letter-spacing="0.55">**</text>
<text class="s" transform="translate(153.02 159.1) scale(0.88 1)" font-size="8.6" fill="#ee1c2e" text-anchor="middle" stroke="#ee1c2e" stroke-width="0.2">b</text>
<text class="sb" transform="translate(162.8 254.8) scale(0.8 1)" font-size="9" fill="#1a1a1a" text-anchor="middle">11</text>
<text class="sb" transform="translate(163.05 223.82) scale(1 1)" font-size="6.6" fill="#111" text-anchor="middle" letter-spacing="0.55">***</text>
<text class="s" transform="translate(162.8 217.4) scale(0.88 1)" font-size="8.6" fill="#ee1c2e" text-anchor="middle" stroke="#ee1c2e" stroke-width="0.2">a</text>
<text class="sb" transform="translate(172.58 254.8) scale(0.8 1)" font-size="9" fill="#1a1a1a" text-anchor="middle">12</text>
<text class="sb" transform="translate(172.83 237.22) scale(1 1)" font-size="6.6" fill="#111" text-anchor="middle" letter-spacing="0.55">***</text>
<text class="s" transform="translate(172.58 230.8) scale(0.88 1)" font-size="8.6" fill="#ee1c2e" text-anchor="middle" stroke="#ee1c2e" stroke-width="0.2">a</text>
<text class="sb" transform="translate(182.36 254.8) scale(0.8 1)" font-size="9" fill="#1a1a1a" text-anchor="middle">13</text>
<text class="sb" transform="translate(182.61 233.42) scale(1 1)" font-size="6.6" fill="#111" text-anchor="middle" letter-spacing="0.55">*</text>
<text class="s" transform="translate(182.36 227) scale(0.88 1)" font-size="8.6" fill="#ee1c2e" text-anchor="middle" stroke="#ee1c2e" stroke-width="0.2">b</text>
<text class="sb" transform="translate(192.14 254.8) scale(0.8 1)" font-size="9" fill="#1a1a1a" text-anchor="middle">14</text>
<text class="sb" transform="translate(192.39 195.82) scale(1 1)" font-size="6.6" fill="#111" text-anchor="middle" letter-spacing="0.55">**</text>
<text class="s" transform="translate(192.14 189.4) scale(0.88 1)" font-size="8.6" fill="#ee1c2e" text-anchor="middle" stroke="#ee1c2e" stroke-width="0.2">b</text>
<rect x="269.85" y="183.7" width="4.1" height="91.8" fill="#1b3966"/>
<rect x="279.15" y="239" width="4.1" height="36.5" fill="#fe0000"/>
<rect x="288.45" y="230" width="4.1" height="45.5" fill="#e36c0a"/>
<rect x="297.75" y="268.1" width="4.1" height="7.4" fill="#e36c0a"/>
<rect x="307.05" y="253.6" width="4.1" height="21.9" fill="#e36c0a"/>
<rect x="316.35" y="234.9" width="4.1" height="40.6" fill="#e36c0a"/>
<rect x="325.65" y="202.4" width="4.1" height="73.1" fill="#76923c"/>
<rect x="334.95" y="258.5" width="4.1" height="17" fill="#76923c"/>
<rect x="344.25" y="249.1" width="4.1" height="26.4" fill="#76923c"/>
<rect x="353.55" y="224.8" width="4.1" height="50.7" fill="#76923c"/>
<rect x="362.85" y="219.6" width="4.1" height="55.9" fill="#953735"/>
<rect x="372.15" y="245" width="4.1" height="30.5" fill="#953735"/>
<rect x="381.45" y="234.5" width="4.1" height="41" fill="#953735"/>
<rect x="390.75" y="230.4" width="4.1" height="45.1" fill="#953735"/>
<line x1="266.5" y1="156" x2="266.5" y2="276" stroke="#989898" stroke-width="1"/>
<line x1="266" y1="275.5" x2="396.8" y2="275.5" stroke="#8a8a8a" stroke-width="1"/>
<line x1="263.5" y1="156.5" x2="266.5" y2="156.5" stroke="#989898" stroke-width="1"/>
<line x1="263.5" y1="180.3" x2="266.5" y2="180.3" stroke="#989898" stroke-width="1"/>
<line x1="263.5" y1="204.1" x2="266.5" y2="204.1" stroke="#989898" stroke-width="1"/>
<line x1="263.5" y1="227.9" x2="266.5" y2="227.9" stroke="#989898" stroke-width="1"/>
<line x1="263.5" y1="251.7" x2="266.5" y2="251.7" stroke="#989898" stroke-width="1"/>
<line x1="263.5" y1="275.5" x2="266.5" y2="275.5" stroke="#989898" stroke-width="1"/>
<line x1="266.5" y1="275.5" x2="266.5" y2="277.7" stroke="#8a8a8a" stroke-width="0.8"/>
<line x1="275.81" y1="275.5" x2="275.81" y2="277.7" stroke="#8a8a8a" stroke-width="0.8"/>
<line x1="285.11" y1="275.5" x2="285.11" y2="277.7" stroke="#8a8a8a" stroke-width="0.8"/>
<line x1="294.42" y1="275.5" x2="294.42" y2="277.7" stroke="#8a8a8a" stroke-width="0.8"/>
<line x1="303.73" y1="275.5" x2="303.73" y2="277.7" stroke="#8a8a8a" stroke-width="0.8"/>
<line x1="313.04" y1="275.5" x2="313.04" y2="277.7" stroke="#8a8a8a" stroke-width="0.8"/>
<line x1="322.34" y1="275.5" x2="322.34" y2="277.7" stroke="#8a8a8a" stroke-width="0.8"/>
<line x1="331.65" y1="275.5" x2="331.65" y2="277.7" stroke="#8a8a8a" stroke-width="0.8"/>
<line x1="340.96" y1="275.5" x2="340.96" y2="277.7" stroke="#8a8a8a" stroke-width="0.8"/>
<line x1="350.26" y1="275.5" x2="350.26" y2="277.7" stroke="#8a8a8a" stroke-width="0.8"/>
<line x1="359.57" y1="275.5" x2="359.57" y2="277.7" stroke="#8a8a8a" stroke-width="0.8"/>
<line x1="368.88" y1="275.5" x2="368.88" y2="277.7" stroke="#8a8a8a" stroke-width="0.8"/>
<line x1="378.19" y1="275.5" x2="378.19" y2="277.7" stroke="#8a8a8a" stroke-width="0.8"/>
<line x1="387.49" y1="275.5" x2="387.49" y2="277.7" stroke="#8a8a8a" stroke-width="0.8"/>
<line x1="396.8" y1="275.5" x2="396.8" y2="277.7" stroke="#8a8a8a" stroke-width="0.8"/>
<text class="s" transform="translate(261 159.7) scale(0.78 1)" font-size="9" fill="#2b2b2b" text-anchor="end">250</text>
<text class="s" transform="translate(261 183.5) scale(0.78 1)" font-size="9" fill="#2b2b2b" text-anchor="end">200</text>
<text class="s" transform="translate(261 207.3) scale(0.78 1)" font-size="9" fill="#2b2b2b" text-anchor="end">150</text>
<text class="s" transform="translate(261 231.1) scale(0.78 1)" font-size="9" fill="#2b2b2b" text-anchor="end">100</text>
<text class="s" transform="translate(261 254.9) scale(0.78 1)" font-size="9" fill="#2b2b2b" text-anchor="end">50</text>
<text class="s" transform="translate(261 278.7) scale(0.78 1)" font-size="9" fill="#2b2b2b" text-anchor="end">0</text>
<line x1="271.5" y1="180.5" x2="271.5" y2="187.5" stroke="#1a1a1a" stroke-width="0.9"/>
<line x1="269.5" y1="180.5" x2="273.5" y2="180.5" stroke="#1a1a1a" stroke-width="0.9"/>
<line x1="269.5" y1="187.5" x2="273.5" y2="187.5" stroke="#1a1a1a" stroke-width="0.9"/>
<line x1="281.5" y1="237.5" x2="281.5" y2="240.5" stroke="#1a1a1a" stroke-width="0.9"/>
<line x1="279.5" y1="237.5" x2="283.5" y2="237.5" stroke="#1a1a1a" stroke-width="0.9"/>
<line x1="279.5" y1="240.5" x2="283.5" y2="240.5" stroke="#1a1a1a" stroke-width="0.9"/>
<line x1="290.5" y1="228.5" x2="290.5" y2="231.5" stroke="#1a1a1a" stroke-width="0.9"/>
<line x1="288.5" y1="228.5" x2="292.5" y2="228.5" stroke="#1a1a1a" stroke-width="0.9"/>
<line x1="288.5" y1="231.5" x2="292.5" y2="231.5" stroke="#1a1a1a" stroke-width="0.9"/>
<line x1="299.5" y1="265.5" x2="299.5" y2="270.5" stroke="#1a1a1a" stroke-width="0.9"/>
<line x1="297.5" y1="265.5" x2="301.5" y2="265.5" stroke="#1a1a1a" stroke-width="0.9"/>
<line x1="297.5" y1="270.5" x2="301.5" y2="270.5" stroke="#1a1a1a" stroke-width="0.9"/>
<line x1="309.5" y1="250.5" x2="309.5" y2="256.5" stroke="#1a1a1a" stroke-width="0.9"/>
<line x1="307.5" y1="250.5" x2="311.5" y2="250.5" stroke="#1a1a1a" stroke-width="0.9"/>
<line x1="307.5" y1="256.5" x2="311.5" y2="256.5" stroke="#1a1a1a" stroke-width="0.9"/>
<line x1="318.5" y1="232.5" x2="318.5" y2="237.5" stroke="#1a1a1a" stroke-width="0.9"/>
<line x1="316.5" y1="232.5" x2="320.5" y2="232.5" stroke="#1a1a1a" stroke-width="0.9"/>
<line x1="316.5" y1="237.5" x2="320.5" y2="237.5" stroke="#1a1a1a" stroke-width="0.9"/>
<line x1="327.5" y1="200.5" x2="327.5" y2="204.5" stroke="#1a1a1a" stroke-width="0.9"/>
<line x1="325.5" y1="200.5" x2="329.5" y2="200.5" stroke="#1a1a1a" stroke-width="0.9"/>
<line x1="325.5" y1="204.5" x2="329.5" y2="204.5" stroke="#1a1a1a" stroke-width="0.9"/>
<line x1="337.5" y1="255.5" x2="337.5" y2="261.5" stroke="#1a1a1a" stroke-width="0.9"/>
<line x1="335.5" y1="255.5" x2="339.5" y2="255.5" stroke="#1a1a1a" stroke-width="0.9"/>
<line x1="335.5" y1="261.5" x2="339.5" y2="261.5" stroke="#1a1a1a" stroke-width="0.9"/>
<line x1="346.5" y1="246.5" x2="346.5" y2="251.5" stroke="#1a1a1a" stroke-width="0.9"/>
<line x1="344.5" y1="246.5" x2="348.5" y2="246.5" stroke="#1a1a1a" stroke-width="0.9"/>
<line x1="344.5" y1="251.5" x2="348.5" y2="251.5" stroke="#1a1a1a" stroke-width="0.9"/>
<line x1="355.5" y1="222.5" x2="355.5" y2="227.5" stroke="#1a1a1a" stroke-width="0.9"/>
<line x1="353.5" y1="222.5" x2="357.5" y2="222.5" stroke="#1a1a1a" stroke-width="0.9"/>
<line x1="353.5" y1="227.5" x2="357.5" y2="227.5" stroke="#1a1a1a" stroke-width="0.9"/>
<line x1="364.5" y1="218.5" x2="364.5" y2="220.5" stroke="#1a1a1a" stroke-width="0.9"/>
<line x1="362.5" y1="218.5" x2="366.5" y2="218.5" stroke="#1a1a1a" stroke-width="0.9"/>
<line x1="362.5" y1="220.5" x2="366.5" y2="220.5" stroke="#1a1a1a" stroke-width="0.9"/>
<line x1="374.5" y1="243.5" x2="374.5" y2="246.5" stroke="#1a1a1a" stroke-width="0.9"/>
<line x1="372.5" y1="243.5" x2="376.5" y2="243.5" stroke="#1a1a1a" stroke-width="0.9"/>
<line x1="372.5" y1="246.5" x2="376.5" y2="246.5" stroke="#1a1a1a" stroke-width="0.9"/>
<line x1="383.5" y1="232.5" x2="383.5" y2="236.5" stroke="#1a1a1a" stroke-width="0.9"/>
<line x1="381.5" y1="232.5" x2="385.5" y2="232.5" stroke="#1a1a1a" stroke-width="0.9"/>
<line x1="381.5" y1="236.5" x2="385.5" y2="236.5" stroke="#1a1a1a" stroke-width="0.9"/>
<line x1="392.5" y1="228.5" x2="392.5" y2="232.5" stroke="#1a1a1a" stroke-width="0.9"/>
<line x1="390.5" y1="228.5" x2="394.5" y2="228.5" stroke="#1a1a1a" stroke-width="0.9"/>
<line x1="390.5" y1="232.5" x2="394.5" y2="232.5" stroke="#1a1a1a" stroke-width="0.9"/>
<text class="sb" transform="translate(243 253.3) rotate(-90) scale(1 0.8)" font-size="10.34" fill="#111">VEGF-A (pg/ml)</text>
<text class="sb" transform="translate(221.1 161.5) scale(0.85 1)" font-size="14" fill="#fa0f16" stroke="#fa0f16" stroke-width="0.3">(d)</text>
<text class="sb" transform="translate(271.9 284.7) scale(0.8 1)" font-size="9" fill="#1a1a1a" text-anchor="middle">1</text>
<text class="sb" transform="translate(281.2 284.7) scale(0.8 1)" font-size="9" fill="#1a1a1a" text-anchor="middle">2</text>
<text class="sb" transform="translate(281.45 236.92) scale(1 1)" font-size="6.6" fill="#111" text-anchor="middle" letter-spacing="0.55">***</text>
<text class="s" transform="translate(281.2 230.1) scale(0.88 1)" font-size="8.6" fill="#ee1c2e" text-anchor="middle" stroke="#ee1c2e" stroke-width="0.2">a</text>
<text class="sb" transform="translate(290.5 284.7) scale(0.8 1)" font-size="9" fill="#1a1a1a" text-anchor="middle">3</text>
<text class="sb" transform="translate(290.75 227.92) scale(1 1)" font-size="6.6" fill="#111" text-anchor="middle" letter-spacing="0.55">***</text>
<text class="s" transform="translate(290.5 221.1) scale(0.88 1)" font-size="8.6" fill="#ee1c2e" text-anchor="middle" stroke="#ee1c2e" stroke-width="0.2">a</text>
<text class="sb" transform="translate(299.8 284.7) scale(0.8 1)" font-size="9" fill="#1a1a1a" text-anchor="middle">4</text>
<text class="sb" transform="translate(300.05 266.02) scale(1 1)" font-size="6.6" fill="#111" text-anchor="middle" letter-spacing="0.55">***</text>
<text class="s" transform="translate(299.8 259.2) scale(0.88 1)" font-size="8.6" fill="#ee1c2e" text-anchor="middle" stroke="#ee1c2e" stroke-width="0.2">a</text>
<text class="sb" transform="translate(309.1 284.7) scale(0.8 1)" font-size="9" fill="#1a1a1a" text-anchor="middle">5</text>
<text class="sb" transform="translate(309.35 251.52) scale(1 1)" font-size="6.6" fill="#111" text-anchor="middle" letter-spacing="0.55">**</text>
<text class="s" transform="translate(309.1 244.7) scale(0.88 1)" font-size="8.6" fill="#ee1c2e" text-anchor="middle" stroke="#ee1c2e" stroke-width="0.2">b</text>
<text class="sb" transform="translate(318.4 284.7) scale(0.8 1)" font-size="9" fill="#1a1a1a" text-anchor="middle">6</text>
<text class="sb" transform="translate(318.65 232.82) scale(1 1)" font-size="6.6" fill="#111" text-anchor="middle" letter-spacing="0.55">***</text>
<text class="s" transform="translate(318.4 226) scale(0.88 1)" font-size="8.6" fill="#ee1c2e" text-anchor="middle" stroke="#ee1c2e" stroke-width="0.2">b</text>
<text class="sb" transform="translate(327.7 284.7) scale(0.8 1)" font-size="9" fill="#1a1a1a" text-anchor="middle">7</text>
<text class="sb" transform="translate(327.95 200.32) scale(1 1)" font-size="6.6" fill="#111" text-anchor="middle" letter-spacing="0.55">**</text>
<text class="s" transform="translate(327.7 193.5) scale(0.88 1)" font-size="8.6" fill="#ee1c2e" text-anchor="middle" stroke="#ee1c2e" stroke-width="0.2">a</text>
<text class="sb" transform="translate(337 284.7) scale(0.8 1)" font-size="9" fill="#1a1a1a" text-anchor="middle">8</text>
<text class="sb" transform="translate(337.25 256.42) scale(1 1)" font-size="6.6" fill="#111" text-anchor="middle" letter-spacing="0.55">***</text>
<text class="s" transform="translate(337 249.6) scale(0.88 1)" font-size="8.6" fill="#ee1c2e" text-anchor="middle" stroke="#ee1c2e" stroke-width="0.2">a</text>
<text class="sb" transform="translate(346.3 284.7) scale(0.8 1)" font-size="9" fill="#1a1a1a" text-anchor="middle">9</text>
<text class="sb" transform="translate(346.55 247.02) scale(1 1)" font-size="6.6" fill="#111" text-anchor="middle" letter-spacing="0.55">**</text>
<text class="s" transform="translate(346.3 240.2) scale(0.88 1)" font-size="8.6" fill="#ee1c2e" text-anchor="middle" stroke="#ee1c2e" stroke-width="0.2">b</text>
<text class="sb" transform="translate(355.6 284.7) scale(0.8 1)" font-size="9" fill="#1a1a1a" text-anchor="middle">10</text>
<text class="sb" transform="translate(355.85 222.72) scale(1 1)" font-size="6.6" fill="#111" text-anchor="middle" letter-spacing="0.55">***</text>
<text class="s" transform="translate(355.6 215.9) scale(0.88 1)" font-size="8.6" fill="#ee1c2e" text-anchor="middle" stroke="#ee1c2e" stroke-width="0.2">b</text>
<text class="sb" transform="translate(364.9 284.7) scale(0.8 1)" font-size="9" fill="#1a1a1a" text-anchor="middle">11</text>
<text class="sb" transform="translate(365.15 217.52) scale(1 1)" font-size="6.6" fill="#111" text-anchor="middle" letter-spacing="0.55">**</text>
<text class="s" transform="translate(364.9 210.7) scale(0.88 1)" font-size="8.6" fill="#ee1c2e" text-anchor="middle" stroke="#ee1c2e" stroke-width="0.2">a</text>
<text class="sb" transform="translate(374.2 284.7) scale(0.8 1)" font-size="9" fill="#1a1a1a" text-anchor="middle">12</text>
<text class="sb" transform="translate(374.45 242.92) scale(1 1)" font-size="6.6" fill="#111" text-anchor="middle" letter-spacing="0.55">***</text>
<text class="s" transform="translate(374.2 236.1) scale(0.88 1)" font-size="8.6" fill="#ee1c2e" text-anchor="middle" stroke="#ee1c2e" stroke-width="0.2">a</text>
<text class="sb" transform="translate(383.5 284.7) scale(0.8 1)" font-size="9" fill="#1a1a1a" text-anchor="middle">13</text>
<text class="sb" transform="translate(383.75 232.42) scale(1 1)" font-size="6.6" fill="#111" text-anchor="middle" letter-spacing="0.55">**</text>
<text class="s" transform="translate(383.5 225.6) scale(0.88 1)" font-size="8.6" fill="#ee1c2e" text-anchor="middle" stroke="#ee1c2e" stroke-width="0.2">b</text>
<text class="sb" transform="translate(392.8 284.7) scale(0.8 1)" font-size="9" fill="#1a1a1a" text-anchor="middle">14</text>
<text class="sb" transform="translate(393.05 228.32) scale(1 1)" font-size="6.6" fill="#111" text-anchor="middle" letter-spacing="0.55">***</text>
<text class="s" transform="translate(392.8 221.5) scale(0.88 1)" font-size="8.6" fill="#ee1c2e" text-anchor="middle" stroke="#ee1c2e" stroke-width="0.2">b</text>
<rect x="60.25" y="399.5" width="3.8" height="10" fill="#1b3966"/>
<rect x="69.68" y="338.8" width="3.8" height="60.7" fill="#fe0000"/>
<rect x="79.11" y="399.5" width="3.8" height="2.5" fill="#e36c0a"/>
<rect x="88.54" y="363.3" width="3.8" height="36.2" fill="#e36c0a"/>
<rect x="97.97" y="382.5" width="3.8" height="17" fill="#e36c0a"/>
<rect x="107.4" y="386" width="3.8" height="13.5" fill="#e36c0a"/>
<rect x="116.83" y="399.5" width="3.8" height="3.1" fill="#5f8c2e"/>
<rect x="126.26" y="382.6" width="3.8" height="16.9" fill="#8ab446"/>
<rect x="135.69" y="395.4" width="3.8" height="4.1" fill="#84ac40"/>
<rect x="145.12" y="394.4" width="3.8" height="5.1" fill="#84ac40"/>
<rect x="154.55" y="399.5" width="3.8" height="2" fill="#953735"/>
<rect x="163.98" y="333.5" width="3.8" height="66" fill="#953735"/>
<rect x="173.41" y="388.1" width="3.8" height="11.4" fill="#953735"/>
<rect x="182.84" y="380.7" width="3.8" height="18.8" fill="#953735"/>
<line x1="57.5" y1="299" x2="57.5" y2="425" stroke="#a2a2a2" stroke-width="1"/>
<line x1="57" y1="399.5" x2="190.7" y2="399.5" stroke="#a0a0a0" stroke-width="1"/>
<line x1="54.5" y1="299.5" x2="57.5" y2="299.5" stroke="#a2a2a2" stroke-width="1"/>
<line x1="54.5" y1="324.5" x2="57.5" y2="324.5" stroke="#a2a2a2" stroke-width="1"/>
<line x1="54.5" y1="349.5" x2="57.5" y2="349.5" stroke="#a2a2a2" stroke-width="1"/>
<line x1="54.5" y1="374.5" x2="57.5" y2="374.5" stroke="#a2a2a2" stroke-width="1"/>
<line x1="54.5" y1="399.5" x2="57.5" y2="399.5" stroke="#a2a2a2" stroke-width="1"/>
<line x1="54.5" y1="424.5" x2="57.5" y2="424.5" stroke="#a2a2a2" stroke-width="1"/>
<line x1="57.5" y1="399.5" x2="57.5" y2="401.7" stroke="#a0a0a0" stroke-width="0.8"/>
<line x1="67.01" y1="399.5" x2="67.01" y2="401.7" stroke="#a0a0a0" stroke-width="0.8"/>
<line x1="76.53" y1="399.5" x2="76.53" y2="401.7" stroke="#a0a0a0" stroke-width="0.8"/>
<line x1="86.04" y1="399.5" x2="86.04" y2="401.7" stroke="#a0a0a0" stroke-width="0.8"/>
<line x1="95.56" y1="399.5" x2="95.56" y2="401.7" stroke="#a0a0a0" stroke-width="0.8"/>
<line x1="105.07" y1="399.5" x2="105.07" y2="401.7" stroke="#a0a0a0" stroke-width="0.8"/>
<line x1="114.59" y1="399.5" x2="114.59" y2="401.7" stroke="#a0a0a0" stroke-width="0.8"/>
<line x1="124.1" y1="399.5" x2="124.1" y2="401.7" stroke="#a0a0a0" stroke-width="0.8"/>
<line x1="133.61" y1="399.5" x2="133.61" y2="401.7" stroke="#a0a0a0" stroke-width="0.8"/>
<line x1="143.13" y1="399.5" x2="143.13" y2="401.7" stroke="#a0a0a0" stroke-width="0.8"/>
<line x1="152.64" y1="399.5" x2="152.64" y2="401.7" stroke="#a0a0a0" stroke-width="0.8"/>
<line x1="162.16" y1="399.5" x2="162.16" y2="401.7" stroke="#a0a0a0" stroke-width="0.8"/>
<line x1="171.67" y1="399.5" x2="171.67" y2="401.7" stroke="#a0a0a0" stroke-width="0.8"/>
<line x1="181.19" y1="399.5" x2="181.19" y2="401.7" stroke="#a0a0a0" stroke-width="0.8"/>
<line x1="190.7" y1="399.5" x2="190.7" y2="401.7" stroke="#a0a0a0" stroke-width="0.8"/>
<text class="s" transform="translate(51.1 302.7) scale(0.74 1)" font-size="9.5" fill="#2b2b2b" text-anchor="end">20</text>
<text class="s" transform="translate(51.1 327.7) scale(0.74 1)" font-size="9.5" fill="#2b2b2b" text-anchor="end">15</text>
<text class="s" transform="translate(51.1 352.7) scale(0.74 1)" font-size="9.5" fill="#2b2b2b" text-anchor="end">10</text>
<text class="s" transform="translate(51.1 377.7) scale(0.74 1)" font-size="9.5" fill="#2b2b2b" text-anchor="end">5</text>
<text class="s" transform="translate(51.1 402.7) scale(0.74 1)" font-size="9.5" fill="#2b2b2b" text-anchor="end">0</text>
<text class="s" transform="translate(51.1 427.7) scale(0.74 1)" font-size="9.5" fill="#2b2b2b" text-anchor="end">-5</text>
<line x1="62.5" y1="403.5" x2="62.5" y2="414.5" stroke="#1a1a1a" stroke-width="0.9"/>
<line x1="60.5" y1="403.5" x2="64.5" y2="403.5" stroke="#1a1a1a" stroke-width="0.9"/>
<line x1="60.5" y1="414.5" x2="64.5" y2="414.5" stroke="#1a1a1a" stroke-width="0.9"/>
<line x1="71.5" y1="331.5" x2="71.5" y2="346.5" stroke="#1a1a1a" stroke-width="0.9"/>
<line x1="69.5" y1="331.5" x2="73.5" y2="331.5" stroke="#1a1a1a" stroke-width="0.9"/>
<line x1="69.5" y1="346.5" x2="73.5" y2="346.5" stroke="#1a1a1a" stroke-width="0.9"/>
<line x1="81.5" y1="400.5" x2="81.5" y2="403.5" stroke="#1a1a1a" stroke-width="0.9"/>
<line x1="79.5" y1="400.5" x2="83.5" y2="400.5" stroke="#1a1a1a" stroke-width="0.9"/>
<line x1="79.5" y1="403.5" x2="83.5" y2="403.5" stroke="#1a1a1a" stroke-width="0.9"/>
<line x1="90.5" y1="355.5" x2="90.5" y2="372.5" stroke="#1a1a1a" stroke-width="0.9"/>
<line x1="88.5" y1="355.5" x2="92.5" y2="355.5" stroke="#1a1a1a" stroke-width="0.9"/>
<line x1="88.5" y1="372.5" x2="92.5" y2="372.5" stroke="#1a1a1a" stroke-width="0.9"/>
<line x1="99.5" y1="377.5" x2="99.5" y2="389.5" stroke="#1a1a1a" stroke-width="0.9"/>
<line x1="97.5" y1="377.5" x2="101.5" y2="377.5" stroke="#1a1a1a" stroke-width="0.9"/>
<line x1="97.5" y1="389.5" x2="101.5" y2="389.5" stroke="#1a1a1a" stroke-width="0.9"/>
<line x1="109.5" y1="375.5" x2="109.5" y2="397.5" stroke="#1a1a1a" stroke-width="0.9"/>
<line x1="107.5" y1="375.5" x2="111.5" y2="375.5" stroke="#1a1a1a" stroke-width="0.9"/>
<line x1="107.5" y1="397.5" x2="111.5" y2="397.5" stroke="#1a1a1a" stroke-width="0.9"/>
<line x1="128.5" y1="372.5" x2="128.5" y2="392.5" stroke="#1a1a1a" stroke-width="0.9"/>
<line x1="126.5" y1="372.5" x2="130.5" y2="372.5" stroke="#1a1a1a" stroke-width="0.9"/>
<line x1="126.5" y1="392.5" x2="130.5" y2="392.5" stroke="#1a1a1a" stroke-width="0.9"/>
<line x1="137.5" y1="393.5" x2="137.5" y2="398.5" stroke="#1a1a1a" stroke-width="0.9"/>
<line x1="135.5" y1="393.5" x2="139.5" y2="393.5" stroke="#1a1a1a" stroke-width="0.9"/>
<line x1="135.5" y1="398.5" x2="139.5" y2="398.5" stroke="#1a1a1a" stroke-width="0.9"/>
<line x1="147.5" y1="392.5" x2="147.5" y2="396.5" stroke="#1a1a1a" stroke-width="0.9"/>
<line x1="145.5" y1="392.5" x2="149.5" y2="392.5" stroke="#1a1a1a" stroke-width="0.9"/>
<line x1="145.5" y1="396.5" x2="149.5" y2="396.5" stroke="#1a1a1a" stroke-width="0.9"/>
<line x1="156.5" y1="399.5" x2="156.5" y2="404.5" stroke="#1a1a1a" stroke-width="0.9"/>
<line x1="154.5" y1="399.5" x2="158.5" y2="399.5" stroke="#1a1a1a" stroke-width="0.9"/>
<line x1="154.5" y1="404.5" x2="158.5" y2="404.5" stroke="#1a1a1a" stroke-width="0.9"/>
<line x1="165.5" y1="318.5" x2="165.5" y2="350.5" stroke="#1a1a1a" stroke-width="0.9"/>
<line x1="163.5" y1="318.5" x2="167.5" y2="318.5" stroke="#1a1a1a" stroke-width="0.9"/>
<line x1="163.5" y1="350.5" x2="167.5" y2="350.5" stroke="#1a1a1a" stroke-width="0.9"/>
<line x1="175.5" y1="385.5" x2="175.5" y2="391.5" stroke="#1a1a1a" stroke-width="0.9"/>
<line x1="173.5" y1="385.5" x2="177.5" y2="385.5" stroke="#1a1a1a" stroke-width="0.9"/>
<line x1="173.5" y1="391.5" x2="177.5" y2="391.5" stroke="#1a1a1a" stroke-width="0.9"/>
<line x1="184.5" y1="374.5" x2="184.5" y2="387.5" stroke="#1a1a1a" stroke-width="0.9"/>
<line x1="182.5" y1="374.5" x2="186.5" y2="374.5" stroke="#1a1a1a" stroke-width="0.9"/>
<line x1="182.5" y1="387.5" x2="186.5" y2="387.5" stroke="#1a1a1a" stroke-width="0.9"/>
<text class="sb" transform="translate(39 407.8) rotate(-90) scale(1 0.8)" font-size="11.32" fill="#111">TGF-β1 (ng/ml)</text>
<text class="sb" transform="translate(16.3 297.2) scale(0.81 1)" font-size="14" fill="#fa0f16" stroke="#fa0f16" stroke-width="0.3">(e)</text>
<text class="sb" transform="translate(62.15 394.4) scale(0.78 1)" font-size="9.6" fill="#1a1a1a" text-anchor="middle">1</text>
<text class="sb" transform="translate(71.58 407.1) scale(0.78 1)" font-size="9.6" fill="#1a1a1a" text-anchor="middle">2</text>
<text class="sb" transform="translate(71.83 331.49) scale(1 1)" font-size="6.93" fill="#111" text-anchor="middle" letter-spacing="0.55">***</text>
<text class="s" transform="translate(71.58 324.8) scale(0.88 1)" font-size="9.2" fill="#ee1c2e" text-anchor="middle" stroke="#ee1c2e" stroke-width="0.2">a</text>
<text class="sb" transform="translate(81.01 384.1) scale(0.78 1)" font-size="9.6" fill="#1a1a1a" text-anchor="middle">3</text>
<text class="sb" transform="translate(81.26 398.29) scale(1 1)" font-size="6.93" fill="#111" text-anchor="middle" letter-spacing="0.55">*</text>
<text class="s" transform="translate(81.01 391.6) scale(0.88 1)" font-size="9.2" fill="#ee1c2e" text-anchor="middle" stroke="#ee1c2e" stroke-width="0.2">a</text>
<text class="sb" transform="translate(90.44 407.1) scale(0.78 1)" font-size="9.6" fill="#1a1a1a" text-anchor="middle">4</text>
<text class="sb" transform="translate(90.69 355.49) scale(1 1)" font-size="6.93" fill="#111" text-anchor="middle" letter-spacing="0.55">**</text>
<text class="s" transform="translate(90.44 348.8) scale(0.88 1)" font-size="9.2" fill="#ee1c2e" text-anchor="middle" stroke="#ee1c2e" stroke-width="0.2">a</text>
<text class="sb" transform="translate(99.87 407.1) scale(0.78 1)" font-size="9.6" fill="#1a1a1a" text-anchor="middle">5</text>
<text class="sb" transform="translate(100.12 377.39) scale(1 1)" font-size="6.93" fill="#111" text-anchor="middle" letter-spacing="0.55">*</text>
<text class="s" transform="translate(99.87 370.7) scale(0.88 1)" font-size="9.2" fill="#ee1c2e" text-anchor="middle" stroke="#ee1c2e" stroke-width="0.2">b</text>
<text class="sb" transform="translate(109.3 407.1) scale(0.78 1)" font-size="9.6" fill="#1a1a1a" text-anchor="middle">6</text>
<text class="sb" transform="translate(109.55 376.09) scale(1 1)" font-size="6.93" fill="#111" text-anchor="middle" letter-spacing="0.55">*</text>
<text class="s" transform="translate(109.3 369.4) scale(0.88 1)" font-size="9.2" fill="#ee1c2e" text-anchor="middle" stroke="#ee1c2e" stroke-width="0.2">b</text>
<text class="sb" transform="translate(118.73 384.1) scale(0.78 1)" font-size="9.6" fill="#1a1a1a" text-anchor="middle">7</text>
<text class="sb" transform="translate(118.98 398.29) scale(1 1)" font-size="6.93" fill="#111" text-anchor="middle" letter-spacing="0.55">*</text>
<text class="s" transform="translate(118.73 391.6) scale(0.88 1)" font-size="9.2" fill="#ee1c2e" text-anchor="middle" stroke="#ee1c2e" stroke-width="0.2">a</text>
<text class="sb" transform="translate(128.16 407.1) scale(0.78 1)" font-size="9.6" fill="#1a1a1a" text-anchor="middle">8</text>
<text class="sb" transform="translate(128.41 372.69) scale(1 1)" font-size="6.93" fill="#111" text-anchor="middle" letter-spacing="0.55">*</text>
<text class="s" transform="translate(128.16 366) scale(0.88 1)" font-size="9.2" fill="#ee1c2e" text-anchor="middle" stroke="#ee1c2e" stroke-width="0.2">a</text>
<text class="sb" transform="translate(137.59 407.1) scale(0.78 1)" font-size="9.6" fill="#1a1a1a" text-anchor="middle">9</text>
<text class="sb" transform="translate(137.84 393.39) scale(1 1)" font-size="6.93" fill="#111" text-anchor="middle" letter-spacing="0.55">*</text>
<text class="s" transform="translate(137.59 386.7) scale(0.88 1)" font-size="9.2" fill="#ee1c2e" text-anchor="middle" stroke="#ee1c2e" stroke-width="0.2">b</text>
<text class="sb" transform="translate(147.02 407.1) scale(0.78 1)" font-size="9.6" fill="#1a1a1a" text-anchor="middle">10</text>
<text class="sb" transform="translate(147.27 392.99) scale(1 1)" font-size="6.93" fill="#111" text-anchor="middle" letter-spacing="0.55">*</text>
<text class="s" transform="translate(147.02 386.3) scale(0.88 1)" font-size="9.2" fill="#ee1c2e" text-anchor="middle" stroke="#ee1c2e" stroke-width="0.2">b</text>
<text class="sb" transform="translate(156.45 384.1) scale(0.78 1)" font-size="9.6" fill="#1a1a1a" text-anchor="middle">11</text>
<text class="sb" transform="translate(156.7 398.29) scale(1 1)" font-size="6.93" fill="#111" text-anchor="middle" letter-spacing="0.55">*</text>
<text class="s" transform="translate(156.45 391.6) scale(0.88 1)" font-size="9.2" fill="#ee1c2e" text-anchor="middle" stroke="#ee1c2e" stroke-width="0.2">a</text>
<text class="sb" transform="translate(165.88 407.1) scale(0.78 1)" font-size="9.6" fill="#1a1a1a" text-anchor="middle">12</text>
<text class="sb" transform="translate(166.13 318.19) scale(1 1)" font-size="6.93" fill="#111" text-anchor="middle" letter-spacing="0.55">**</text>
<text class="s" transform="translate(165.88 311.5) scale(0.88 1)" font-size="9.2" fill="#ee1c2e" text-anchor="middle" stroke="#ee1c2e" stroke-width="0.2">a</text>
<text class="sb" transform="translate(175.31 407.1) scale(0.78 1)" font-size="9.6" fill="#1a1a1a" text-anchor="middle">13</text>
<text class="sb" transform="translate(175.56 385.69) scale(1 1)" font-size="6.93" fill="#111" text-anchor="middle" letter-spacing="0.55">*</text>
<text class="s" transform="translate(175.31 379) scale(0.88 1)" font-size="9.2" fill="#ee1c2e" text-anchor="middle" stroke="#ee1c2e" stroke-width="0.2">b</text>
<text class="sb" transform="translate(184.74 407.1) scale(0.78 1)" font-size="9.6" fill="#1a1a1a" text-anchor="middle">14</text>
<text class="sb" transform="translate(184.99 374.99) scale(1 1)" font-size="6.93" fill="#111" text-anchor="middle" letter-spacing="0.55">*</text>
<text class="s" transform="translate(184.74 368.3) scale(0.88 1)" font-size="9.2" fill="#ee1c2e" text-anchor="middle" stroke="#ee1c2e" stroke-width="0.2">b</text>
<rect x="271.45" y="313.5" width="3.9" height="100" fill="#1b3966"/>
<rect x="281.29" y="413.5" width="3.9" height="3.2" fill="#fe0000"/>
<rect x="291.13" y="327.5" width="3.9" height="86" fill="#e36c0a"/>
<rect x="300.97" y="413.5" width="3.9" height="3.8" fill="#e36c0a"/>
<rect x="310.81" y="413.5" width="3.9" height="2.9" fill="#e36c0a"/>
<rect x="320.65" y="413.5" width="3.9" height="2" fill="#e36c0a"/>
<rect x="330.49" y="320" width="3.9" height="93.5" fill="#76923c"/>
<rect x="340.33" y="413.5" width="3.9" height="5.3" fill="#76923c"/>
<rect x="350.17" y="413.5" width="3.9" height="4.1" fill="#76923c"/>
<rect x="360.01" y="413.5" width="3.9" height="3.7" fill="#76923c"/>
<rect x="369.85" y="341.6" width="3.9" height="71.9" fill="#953735"/>
<rect x="379.69" y="413.5" width="3.9" height="4.1" fill="#953735"/>
<rect x="389.53" y="413.5" width="3.9" height="3.5" fill="#953735"/>
<rect x="399.37" y="413.5" width="3.9" height="3.5" fill="#953735"/>
<line x1="268.5" y1="297.99" x2="268.5" y2="430.43" stroke="#a8a8a8" stroke-width="1"/>
<line x1="268" y1="413.5" x2="407" y2="413.5" stroke="#9c9c9c" stroke-width="1"/>
<line x1="265.5" y1="298.49" x2="268.5" y2="298.49" stroke="#a8a8a8" stroke-width="1"/>
<line x1="265.5" y1="314.92" x2="268.5" y2="314.92" stroke="#a8a8a8" stroke-width="1"/>
<line x1="265.5" y1="331.35" x2="268.5" y2="331.35" stroke="#a8a8a8" stroke-width="1"/>
<line x1="265.5" y1="347.78" x2="268.5" y2="347.78" stroke="#a8a8a8" stroke-width="1"/>
<line x1="265.5" y1="364.21" x2="268.5" y2="364.21" stroke="#a8a8a8" stroke-width="1"/>
<line x1="265.5" y1="380.64" x2="268.5" y2="380.64" stroke="#a8a8a8" stroke-width="1"/>
<line x1="265.5" y1="397.07" x2="268.5" y2="397.07" stroke="#a8a8a8" stroke-width="1"/>
<line x1="265.5" y1="413.5" x2="268.5" y2="413.5" stroke="#a8a8a8" stroke-width="1"/>
<line x1="265.5" y1="429.93" x2="268.5" y2="429.93" stroke="#a8a8a8" stroke-width="1"/>
<line x1="268.5" y1="413.5" x2="268.5" y2="415.7" stroke="#9c9c9c" stroke-width="0.8"/>
<line x1="278.39" y1="413.5" x2="278.39" y2="415.7" stroke="#9c9c9c" stroke-width="0.8"/>
<line x1="288.29" y1="413.5" x2="288.29" y2="415.7" stroke="#9c9c9c" stroke-width="0.8"/>
<line x1="298.18" y1="413.5" x2="298.18" y2="415.7" stroke="#9c9c9c" stroke-width="0.8"/>
<line x1="308.07" y1="413.5" x2="308.07" y2="415.7" stroke="#9c9c9c" stroke-width="0.8"/>
<line x1="317.96" y1="413.5" x2="317.96" y2="415.7" stroke="#9c9c9c" stroke-width="0.8"/>
<line x1="327.86" y1="413.5" x2="327.86" y2="415.7" stroke="#9c9c9c" stroke-width="0.8"/>
<line x1="337.75" y1="413.5" x2="337.75" y2="415.7" stroke="#9c9c9c" stroke-width="0.8"/>
<line x1="347.64" y1="413.5" x2="347.64" y2="415.7" stroke="#9c9c9c" stroke-width="0.8"/>
<line x1="357.54" y1="413.5" x2="357.54" y2="415.7" stroke="#9c9c9c" stroke-width="0.8"/>
<line x1="367.43" y1="413.5" x2="367.43" y2="415.7" stroke="#9c9c9c" stroke-width="0.8"/>
<line x1="377.32" y1="413.5" x2="377.32" y2="415.7" stroke="#9c9c9c" stroke-width="0.8"/>
<line x1="387.21" y1="413.5" x2="387.21" y2="415.7" stroke="#9c9c9c" stroke-width="0.8"/>
<line x1="397.11" y1="413.5" x2="397.11" y2="415.7" stroke="#9c9c9c" stroke-width="0.8"/>
<line x1="407" y1="413.5" x2="407" y2="415.7" stroke="#9c9c9c" stroke-width="0.8"/>
<text class="s" transform="translate(263.2 301.69) scale(0.74 1)" font-size="9.5" fill="#2b2b2b" text-anchor="end">350</text>
<text class="s" transform="translate(263.2 318.12) scale(0.74 1)" font-size="9.5" fill="#2b2b2b" text-anchor="end">300</text>
<text class="s" transform="translate(263.2 334.55) scale(0.74 1)" font-size="9.5" fill="#2b2b2b" text-anchor="end">250</text>
<text class="s" transform="translate(263.2 350.98) scale(0.74 1)" font-size="9.5" fill="#2b2b2b" text-anchor="end">200</text>
<text class="s" transform="translate(263.2 367.41) scale(0.74 1)" font-size="9.5" fill="#2b2b2b" text-anchor="end">150</text>
<text class="s" transform="translate(263.2 383.84) scale(0.74 1)" font-size="9.5" fill="#2b2b2b" text-anchor="end">100</text>
<text class="s" transform="translate(263.2 400.27) scale(0.74 1)" font-size="9.5" fill="#2b2b2b" text-anchor="end">50</text>
<text class="s" transform="translate(263.2 416.7) scale(0.74 1)" font-size="9.5" fill="#2b2b2b" text-anchor="end">0</text>
<text class="s" transform="translate(263.2 433.13) scale(0.74 1)" font-size="9.5" fill="#2b2b2b" text-anchor="end">-50</text>
<line x1="273.5" y1="311.5" x2="273.5" y2="315.5" stroke="#1a1a1a" stroke-width="0.9"/>
<line x1="271.5" y1="311.5" x2="275.5" y2="311.5" stroke="#1a1a1a" stroke-width="0.9"/>
<line x1="271.5" y1="315.5" x2="275.5" y2="315.5" stroke="#1a1a1a" stroke-width="0.9"/>
<line x1="283.5" y1="414.5" x2="283.5" y2="418.5" stroke="#1a1a1a" stroke-width="0.9"/>
<line x1="281.5" y1="414.5" x2="285.5" y2="414.5" stroke="#1a1a1a" stroke-width="0.9"/>
<line x1="281.5" y1="418.5" x2="285.5" y2="418.5" stroke="#1a1a1a" stroke-width="0.9"/>
<line x1="293.5" y1="324.5" x2="293.5" y2="330.5" stroke="#1a1a1a" stroke-width="0.9"/>
<line x1="291.5" y1="324.5" x2="295.5" y2="324.5" stroke="#1a1a1a" stroke-width="0.9"/>
<line x1="291.5" y1="330.5" x2="295.5" y2="330.5" stroke="#1a1a1a" stroke-width="0.9"/>
<line x1="302.5" y1="416.5" x2="302.5" y2="417.5" stroke="#1a1a1a" stroke-width="0.9"/>
<line x1="300.5" y1="416.5" x2="304.5" y2="416.5" stroke="#1a1a1a" stroke-width="0.9"/>
<line x1="300.5" y1="417.5" x2="304.5" y2="417.5" stroke="#1a1a1a" stroke-width="0.9"/>
<line x1="312.5" y1="415.5" x2="312.5" y2="416.5" stroke="#1a1a1a" stroke-width="0.9"/>
<line x1="310.5" y1="415.5" x2="314.5" y2="415.5" stroke="#1a1a1a" stroke-width="0.9"/>
<line x1="310.5" y1="416.5" x2="314.5" y2="416.5" stroke="#1a1a1a" stroke-width="0.9"/>
<line x1="322.5" y1="414.5" x2="322.5" y2="415.5" stroke="#1a1a1a" stroke-width="0.9"/>
<line x1="320.5" y1="414.5" x2="324.5" y2="414.5" stroke="#1a1a1a" stroke-width="0.9"/>
<line x1="320.5" y1="415.5" x2="324.5" y2="415.5" stroke="#1a1a1a" stroke-width="0.9"/>
<line x1="332.5" y1="317.5" x2="332.5" y2="322.5" stroke="#1a1a1a" stroke-width="0.9"/>
<line x1="330.5" y1="317.5" x2="334.5" y2="317.5" stroke="#1a1a1a" stroke-width="0.9"/>
<line x1="330.5" y1="322.5" x2="334.5" y2="322.5" stroke="#1a1a1a" stroke-width="0.9"/>
<line x1="342.5" y1="417.5" x2="342.5" y2="419.5" stroke="#1a1a1a" stroke-width="0.9"/>
<line x1="340.5" y1="417.5" x2="344.5" y2="417.5" stroke="#1a1a1a" stroke-width="0.9"/>
<line x1="340.5" y1="419.5" x2="344.5" y2="419.5" stroke="#1a1a1a" stroke-width="0.9"/>
<line x1="352.5" y1="416.5" x2="352.5" y2="418.5" stroke="#1a1a1a" stroke-width="0.9"/>
<line x1="350.5" y1="416.5" x2="354.5" y2="416.5" stroke="#1a1a1a" stroke-width="0.9"/>
<line x1="350.5" y1="418.5" x2="354.5" y2="418.5" stroke="#1a1a1a" stroke-width="0.9"/>
<line x1="361.5" y1="416.5" x2="361.5" y2="417.5" stroke="#1a1a1a" stroke-width="0.9"/>
<line x1="359.5" y1="416.5" x2="363.5" y2="416.5" stroke="#1a1a1a" stroke-width="0.9"/>
<line x1="359.5" y1="417.5" x2="363.5" y2="417.5" stroke="#1a1a1a" stroke-width="0.9"/>
<line x1="371.5" y1="339.5" x2="371.5" y2="343.5" stroke="#1a1a1a" stroke-width="0.9"/>
<line x1="369.5" y1="339.5" x2="373.5" y2="339.5" stroke="#1a1a1a" stroke-width="0.9"/>
<line x1="369.5" y1="343.5" x2="373.5" y2="343.5" stroke="#1a1a1a" stroke-width="0.9"/>
<line x1="381.5" y1="416.5" x2="381.5" y2="419.5" stroke="#1a1a1a" stroke-width="0.9"/>
<line x1="379.5" y1="416.5" x2="383.5" y2="416.5" stroke="#1a1a1a" stroke-width="0.9"/>
<line x1="379.5" y1="419.5" x2="383.5" y2="419.5" stroke="#1a1a1a" stroke-width="0.9"/>
<line x1="391.5" y1="416.5" x2="391.5" y2="417.5" stroke="#1a1a1a" stroke-width="0.9"/>
<line x1="389.5" y1="416.5" x2="393.5" y2="416.5" stroke="#1a1a1a" stroke-width="0.9"/>
<line x1="389.5" y1="417.5" x2="393.5" y2="417.5" stroke="#1a1a1a" stroke-width="0.9"/>
<line x1="401.5" y1="416.5" x2="401.5" y2="417.5" stroke="#1a1a1a" stroke-width="0.9"/>
<line x1="399.5" y1="416.5" x2="403.5" y2="416.5" stroke="#1a1a1a" stroke-width="0.9"/>
<line x1="399.5" y1="417.5" x2="403.5" y2="417.5" stroke="#1a1a1a" stroke-width="0.9"/>
<text class="sb" transform="translate(245 404.8) rotate(-90) scale(1 0.8)" font-size="11.48" fill="#111">IGF-1 (ng/ml)</text>
<text class="sb" transform="translate(224.9 300.3) scale(0.83 1)" font-size="14" fill="#fa0f16" stroke="#fa0f16" stroke-width="0.3">(f)</text>
<text class="sb" transform="translate(273.4 423.1) scale(0.78 1)" font-size="9.6" fill="#1a1a1a" text-anchor="middle">1</text>
<text class="sb" transform="translate(283.24 399.2) scale(0.78 1)" font-size="9.6" fill="#1a1a1a" text-anchor="middle">2</text>
<text class="sb" transform="translate(283.49 412.79) scale(1 1)" font-size="6.93" fill="#111" text-anchor="middle" letter-spacing="0.55">***</text>
<text class="s" transform="translate(283.24 405.6) scale(0.88 1)" font-size="9.2" fill="#ee1c2e" text-anchor="middle" stroke="#ee1c2e" stroke-width="0.2">a</text>
<text class="sb" transform="translate(293.08 422.5) scale(0.78 1)" font-size="9.6" fill="#1a1a1a" text-anchor="middle">3</text>
<text class="sb" transform="translate(293.33 325.89) scale(1 1)" font-size="6.93" fill="#111" text-anchor="middle" letter-spacing="0.55">***</text>
<text class="s" transform="translate(293.08 318.8) scale(0.88 1)" font-size="9.2" fill="#ee1c2e" text-anchor="middle" stroke="#ee1c2e" stroke-width="0.2">a</text>
<text class="sb" transform="translate(302.92 399.4) scale(0.78 1)" font-size="9.6" fill="#1a1a1a" text-anchor="middle">4</text>
<text class="sb" transform="translate(303.17 412.79) scale(1 1)" font-size="6.93" fill="#111" text-anchor="middle" letter-spacing="0.55">***</text>
<text class="s" transform="translate(302.92 405.6) scale(0.88 1)" font-size="9.2" fill="#ee1c2e" text-anchor="middle" stroke="#ee1c2e" stroke-width="0.2">a</text>
<text class="sb" transform="translate(312.76 398.9) scale(0.78 1)" font-size="9.6" fill="#1a1a1a" text-anchor="middle">5</text>
<text class="sb" transform="translate(313.01 412.79) scale(1 1)" font-size="6.93" fill="#111" text-anchor="middle" letter-spacing="0.55">***</text>
<text class="s" transform="translate(312.76 405.6) scale(0.88 1)" font-size="9.2" fill="#ee1c2e" text-anchor="middle" stroke="#ee1c2e" stroke-width="0.2">b</text>
<text class="sb" transform="translate(324 397.5) scale(0.78 1)" font-size="9.6" fill="#1a1a1a" text-anchor="middle">6</text>
<text class="sb" transform="translate(323.69 412.79) scale(1 1)" font-size="6.93" fill="#111" text-anchor="middle" letter-spacing="0.55">***</text>
<text class="s" transform="translate(324 405.6) scale(0.88 1)" font-size="9.2" fill="#ee1c2e" text-anchor="middle" stroke="#ee1c2e" stroke-width="0.2">b</text>
<text class="sb" transform="translate(332.44 422) scale(0.78 1)" font-size="9.6" fill="#1a1a1a" text-anchor="middle">7</text>
<text class="sb" transform="translate(332.69 317.69) scale(1 1)" font-size="6.93" fill="#111" text-anchor="middle" letter-spacing="0.55">***</text>
<text class="s" transform="translate(332.44 310.8) scale(0.88 1)" font-size="9.2" fill="#ee1c2e" text-anchor="middle" stroke="#ee1c2e" stroke-width="0.2">a</text>
<text class="sb" transform="translate(342.28 398.2) scale(0.78 1)" font-size="9.6" fill="#1a1a1a" text-anchor="middle">8</text>
<text class="sb" transform="translate(342.53 412.79) scale(1 1)" font-size="6.93" fill="#111" text-anchor="middle" letter-spacing="0.55">**</text>
<text class="s" transform="translate(342.28 404.2) scale(0.88 1)" font-size="9.2" fill="#ee1c2e" text-anchor="middle" stroke="#ee1c2e" stroke-width="0.2">a</text>
<text class="sb" transform="translate(352.12 398.2) scale(0.78 1)" font-size="9.6" fill="#1a1a1a" text-anchor="middle">9</text>
<text class="sb" transform="translate(352.37 412.79) scale(1 1)" font-size="6.93" fill="#111" text-anchor="middle" letter-spacing="0.55">**</text>
<text class="s" transform="translate(352.12 405.6) scale(0.88 1)" font-size="9.2" fill="#ee1c2e" text-anchor="middle" stroke="#ee1c2e" stroke-width="0.2">b</text>
<text class="sb" transform="translate(361.96 398.2) scale(0.78 1)" font-size="9.6" fill="#1a1a1a" text-anchor="middle">10</text>
<text class="sb" transform="translate(362.21 412.79) scale(1 1)" font-size="6.93" fill="#111" text-anchor="middle" letter-spacing="0.55">**</text>
<text class="s" transform="translate(361.96 405.6) scale(0.88 1)" font-size="9.2" fill="#ee1c2e" text-anchor="middle" stroke="#ee1c2e" stroke-width="0.2">b</text>
<text class="sb" transform="translate(371.8 421) scale(0.7 1)" font-size="9.6" fill="#1a1a1a" text-anchor="middle">11</text>
<text class="sb" transform="translate(372.05 338.59) scale(1 1)" font-size="6.93" fill="#111" text-anchor="middle" letter-spacing="0.55">***</text>
<text class="s" transform="translate(371.8 332.6) scale(0.88 1)" font-size="9.2" fill="#ee1c2e" text-anchor="middle" stroke="#ee1c2e" stroke-width="0.2">a</text>
<text class="sb" transform="translate(381.64 398.9) scale(0.78 1)" font-size="9.6" fill="#1a1a1a" text-anchor="middle">12</text>
<text class="sb" transform="translate(381.89 412.79) scale(1 1)" font-size="6.93" fill="#111" text-anchor="middle" letter-spacing="0.55">***</text>
<text class="s" transform="translate(381.64 405.6) scale(0.88 1)" font-size="9.2" fill="#ee1c2e" text-anchor="middle" stroke="#ee1c2e" stroke-width="0.2">a</text>
<text class="sb" transform="translate(391.48 397.9) scale(0.78 1)" font-size="9.6" fill="#1a1a1a" text-anchor="middle">13</text>
<text class="sb" transform="translate(391.73 412.79) scale(1 1)" font-size="6.93" fill="#111" text-anchor="middle" letter-spacing="0.55">*</text>
<text class="s" transform="translate(391.48 405.6) scale(0.88 1)" font-size="9.2" fill="#ee1c2e" text-anchor="middle" stroke="#ee1c2e" stroke-width="0.2">b</text>
<text class="sb" transform="translate(401.32 398.9) scale(0.78 1)" font-size="9.6" fill="#1a1a1a" text-anchor="middle">14</text>
<text class="sb" transform="translate(401.57 412.79) scale(1 1)" font-size="6.93" fill="#111" text-anchor="middle" letter-spacing="0.55">**</text>
<text class="s" transform="translate(401.32 405.6) scale(0.88 1)" font-size="9.2" fill="#ee1c2e" text-anchor="middle" stroke="#ee1c2e" stroke-width="0.2">b</text>
<text class="sb" transform="translate(427 94.1) scale(0.76 1)" font-size="10" fill="#111" text-anchor="middle">1</text>
<rect x="434.9" y="84.6" width="8.9" height="11.9" fill="#37609a"/>
<text class="s" transform="translate(444.6 92.6) scale(0.79 1)" font-size="10" fill="#2a2a2a">Control</text>
<text class="sb" transform="translate(427 111.5) scale(0.76 1)" font-size="10" fill="#111" text-anchor="middle">2</text>
<rect x="434.9" y="102.6" width="8.9" height="11.9" fill="#fe0000"/>
<text class="s" transform="translate(446 109.4) scale(0.78 1)" font-size="10" fill="#2a2a2a">Diabetic</text>
<text class="sb" transform="translate(427 130.1) scale(0.76 1)" font-size="10" fill="#111" text-anchor="middle">3</text>
<rect x="434.9" y="121" width="8.9" height="12.5" fill="#e36c0a"/>
<text class="s" transform="translate(444.6 129) scale(0.8 1)" font-size="10" fill="#2a2a2a">Ulcer (S.A)</text>
<text class="sb" transform="translate(427 150.7) scale(0.76 1)" font-size="10" fill="#111" text-anchor="middle">4</text>
<rect x="434.9" y="141" width="8.9" height="12.1" fill="#e36c0a"/>
<text class="s" transform="translate(446 149) scale(0.8 1)" font-size="10" fill="#2a2a2a">Diabetic + Ulcer (S.A)</text>
<text class="sb" transform="translate(427 169.5) scale(0.76 1)" font-size="10" fill="#111" text-anchor="middle">5</text>
<rect x="434.9" y="159.6" width="8.9" height="11.9" fill="#e36c0a"/>
<text class="s" transform="translate(445.6 166.8) scale(0.8 1)" font-size="10" fill="#2a2a2a">TBO conjugated chit-Au–AgNPs  treated (S.A)</text>
<text class="sb" transform="translate(427 187.1) scale(0.76 1)" font-size="10" fill="#111" text-anchor="middle">6</text>
<rect x="434.9" y="177.6" width="8.9" height="12.9" fill="#e36c0a"/>
<text class="s" transform="translate(446.6 184.8) scale(0.8 1)" font-size="10" fill="#2a2a2a">TBO conjugated chit-Au–AgNPs  + laser treated (S.A)</text>
<text class="sb" transform="translate(427 206.1) scale(0.76 1)" font-size="10" fill="#111" text-anchor="middle">7</text>
<rect x="434.9" y="196.2" width="8.9" height="12.9" fill="#76923c"/>
<text class="s" transform="translate(447 206) scale(0.81 1)" font-size="10" fill="#2a2a2a">Ulcer (P.A)</text>
<text class="sb" transform="translate(426.5 225.1) scale(0.76 1)" font-size="10" fill="#111" text-anchor="middle">8</text>
<rect x="434.9" y="215.6" width="8.9" height="12.3" fill="#76923c"/>
<text class="s" transform="translate(447.4 223.2) scale(0.82 1)" font-size="10" fill="#2a2a2a">Diabetic + Ulcer (P.A)</text>
<text class="sb" transform="translate(427 244.7) scale(0.76 1)" font-size="10" fill="#111" text-anchor="middle">9</text>
<rect x="434.9" y="233.6" width="8.9" height="12.9" fill="#76923c"/>
<text class="s" transform="translate(447.4 242.4) scale(0.8 1)" font-size="10" fill="#2a2a2a">TBO conjugated chit-Au–AgNPs  treated (P.A)</text>
<text class="sb" transform="translate(426.1 263.1) scale(0.72 1)" font-size="10" fill="#111" text-anchor="middle">10</text>
<rect x="434.9" y="251.6" width="8.9" height="11.9" fill="#76923c"/>
<text class="s" transform="translate(446 259.2) scale(0.8 1)" font-size="10" fill="#2a2a2a">TBO conjugated chit-Au–AgNPs  + laser treated (P.A)</text>
<text class="sb" transform="translate(426.1 279.1) scale(0.72 1)" font-size="10" fill="#111" text-anchor="middle">11</text>
<rect x="434.9" y="268.2" width="8.9" height="11.7" fill="#953735"/>
<text class="s" transform="translate(448 277) scale(0.82 1)" font-size="10" fill="#2a2a2a">Ulcer (S.A+P.A)</text>
<text class="sb" transform="translate(426.1 296.7) scale(0.72 1)" font-size="10" fill="#111" text-anchor="middle">12</text>
<rect x="434.9" y="285.6" width="8.9" height="12.3" fill="#953735"/>
<text class="s" transform="translate(448 293.5) scale(0.82 1)" font-size="10" fill="#2a2a2a">Diabetic + Ulcer (S.A + P.A)</text>
<text class="sb" transform="translate(426.1 312.7) scale(0.72 1)" font-size="10" fill="#111" text-anchor="middle">13</text>
<rect x="434.9" y="302.2" width="8.9" height="12.3" fill="#953735"/>
<text class="s" transform="translate(448 310) scale(0.81 1)" font-size="10" fill="#2a2a2a">TBO conjugated chit-Au–AgNPs  treated (S.A + P.A)</text>
<text class="sb" transform="translate(426.1 330.6) scale(0.72 1)" font-size="10" fill="#111" text-anchor="middle">14</text>
<rect x="434.9" y="320.4" width="8.9" height="13.1" fill="#953735"/>
<text class="s" transform="translate(447.2 328.4) scale(0.81 1)" font-size="10" fill="#2a2a2a">TBO conjugated chit-Au–AgNPs  + laser treated (S.A + P.A)</text>
</svg>
</body>
</html>
